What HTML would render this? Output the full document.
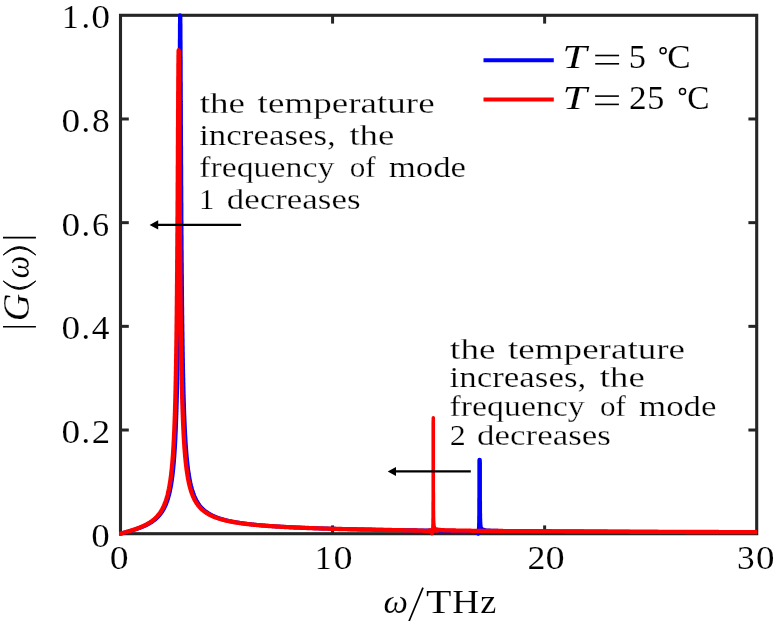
<!DOCTYPE html>
<html>
<head>
<meta charset="utf-8">
<title>|G(ω)| versus ω/THz</title>
<style>
html, body { margin: 0; padding: 0; background: #ffffff; }
body { width: 775px; height: 621px; overflow: hidden; }
svg { display: block; }
text { font-family: "Liberation Serif", serif; fill: #000000; }
.tick line { stroke: #262626; stroke-width: 3; }
</style>
</head>
<body>
<svg width="775" height="621" viewBox="0 0 775 621">
<rect x="0" y="0" width="775" height="621" fill="#ffffff"/>

<!-- axes frame -->
<rect x="120.5" y="15.3" width="636.20" height="518.40" fill="none" stroke="#262626" stroke-width="3.1"/>
<g class="tick">
<line x1="332.57" y1="533.70" x2="332.57" y2="525.40"/>
<line x1="332.57" y1="15.30" x2="332.57" y2="23.60"/>
<line x1="544.63" y1="533.70" x2="544.63" y2="525.40"/>
<line x1="544.63" y1="15.30" x2="544.63" y2="23.60"/>
<line x1="120.50" y1="430.02" x2="128.80" y2="430.02"/>
<line x1="756.70" y1="430.02" x2="748.40" y2="430.02"/>
<line x1="120.50" y1="326.34" x2="128.80" y2="326.34"/>
<line x1="756.70" y1="326.34" x2="748.40" y2="326.34"/>
<line x1="120.50" y1="222.66" x2="128.80" y2="222.66"/>
<line x1="756.70" y1="222.66" x2="748.40" y2="222.66"/>
<line x1="120.50" y1="118.98" x2="128.80" y2="118.98"/>
<line x1="756.70" y1="118.98" x2="748.40" y2="118.98"/>
</g>

<!-- curves -->
<clipPath id="cl"><rect x="119.1" y="0" width="637.90" height="621"/></clipPath>
<g clip-path="url(#cl)">
<path d="M120.5 533.7 L120.9 533.6 L121.3 533.5 L121.8 533.4 L122.2 533.2 L122.6 533.1 L123.0 533.0 L123.5 532.9 L123.9 532.8 L124.3 532.7 L124.7 532.5 L125.2 532.4 L125.6 532.3 L126.0 532.2 L126.4 532.1 L126.9 532.0 L127.3 531.8 L127.7 531.7 L128.1 531.6 L128.6 531.5 L129.0 531.3 L129.4 531.2 L129.8 531.1 L130.3 531.0 L130.7 530.9 L131.1 530.7 L131.5 530.6 L132.0 530.5 L132.4 530.3 L132.8 530.2 L133.2 530.1 L133.6 529.9 L134.1 529.8 L134.5 529.7 L134.9 529.5 L135.3 529.4 L135.8 529.3 L136.2 529.1 L136.6 529.0 L137.0 528.8 L137.5 528.7 L137.9 528.5 L138.3 528.4 L138.7 528.2 L139.2 528.1 L139.6 527.9 L140.0 527.8 L140.4 527.6 L140.9 527.4 L141.3 527.3 L141.7 527.1 L142.1 526.9 L142.6 526.8 L143.0 526.6 L143.4 526.4 L143.8 526.2 L144.3 526.0 L144.7 525.8 L145.1 525.7 L145.5 525.5 L145.9 525.3 L146.4 525.1 L146.8 524.8 L147.2 524.6 L147.6 524.4 L148.1 524.2 L148.5 524.0 L148.9 523.7 L149.3 523.5 L149.8 523.2 L150.2 523.0 L150.6 522.7 L151.0 522.5 L151.5 522.2 L151.9 521.9 L152.3 521.6 L152.7 521.3 L153.2 521.0 L153.6 520.7 L154.0 520.4 L154.4 520.1 L154.9 519.8 L155.3 519.4 L155.7 519.1 L156.1 518.7 L156.3 518.5 L156.6 518.3 L156.8 518.1 L157.0 517.9 L157.2 517.7 L157.4 517.5 L157.6 517.3 L157.8 517.1 L158.0 516.9 L158.2 516.6 L158.5 516.4 L158.7 516.2 L158.9 515.9 L159.1 515.7 L159.3 515.5 L159.5 515.2 L159.7 515.0 L159.9 514.7 L160.2 514.4 L160.4 514.2 L160.6 513.9 L160.8 513.6 L161.0 513.3 L161.2 513.0 L161.4 512.7 L161.6 512.4 L161.9 512.1 L162.1 511.8 L162.3 511.5 L162.5 511.2 L162.7 510.8 L162.9 510.5 L163.1 510.1 L163.3 509.7 L163.5 509.4 L163.8 509.0 L164.0 508.6 L164.2 508.2 L164.4 507.8 L164.6 507.4 L164.8 506.9 L165.0 506.5 L165.2 506.0 L165.5 505.5 L165.7 505.1 L165.9 504.6 L166.1 504.0 L166.3 503.5 L166.5 503.0 L166.7 502.4 L166.9 501.8 L167.2 501.2 L167.4 500.6 L167.6 500.0 L167.8 499.3 L168.0 498.6 L168.2 497.9 L168.4 497.2 L168.6 496.4 L168.9 495.6 L169.1 494.8 L169.3 494.0 L169.5 493.1 L169.6 492.6 L169.7 492.3 L169.8 492.0 L169.8 491.6 L169.9 491.3 L170.0 490.9 L170.0 490.6 L170.1 490.2 L170.2 489.9 L170.3 489.5 L170.3 489.2 L170.4 488.8 L170.5 488.4 L170.6 488.0 L170.6 487.6 L170.7 487.3 L170.8 487.0 L170.8 486.6 L170.9 486.3 L171.0 485.9 L171.0 485.5 L171.1 485.2 L171.2 484.8 L171.2 484.4 L171.3 484.1 L171.3 483.7 L171.4 483.3 L171.5 482.9 L171.5 482.5 L171.6 482.1 L171.7 481.6 L171.7 481.3 L171.8 480.9 L171.8 480.6 L171.9 480.2 L171.9 479.8 L172.0 479.5 L172.0 479.1 L172.1 478.7 L172.1 478.3 L172.2 477.9 L172.2 477.5 L172.3 477.1 L172.4 476.7 L172.4 476.3 L172.5 475.9 L172.5 475.5 L172.6 475.0 L172.6 474.6 L172.7 474.1 L172.7 473.8 L172.8 473.4 L172.8 473.1 L172.8 472.7 L172.9 472.3 L172.9 471.9 L173.0 471.6 L173.0 471.2 L173.1 470.8 L173.1 470.4 L173.1 470.0 L173.2 469.6 L173.2 469.2 L173.3 468.7 L173.3 468.3 L173.3 467.9 L173.4 467.5 L173.4 467.0 L173.5 466.6 L173.5 466.1 L173.6 465.7 L173.6 465.2 L173.6 464.8 L173.7 464.3 L173.7 463.8 L173.8 463.3 L173.8 462.8 L173.8 462.5 L173.9 462.1 L173.9 461.7 L173.9 461.3 L174.0 461.0 L174.0 460.6 L174.0 460.2 L174.1 459.8 L174.1 459.4 L174.1 459.0 L174.2 458.6 L174.2 458.1 L174.2 457.7 L174.3 457.3 L174.3 456.9 L174.3 456.5 L174.4 456.0 L174.4 455.6 L174.4 455.1 L174.4 454.7 L174.5 454.2 L174.5 453.8 L174.5 453.3 L174.6 452.8 L174.6 452.4 L174.6 451.9 L174.7 451.4 L174.7 450.9 L174.7 450.4 L174.8 449.9 L174.8 449.4 L174.8 448.9 L174.9 448.4 L174.9 447.9 L174.9 447.3 L175.0 446.8 L175.0 446.2 L175.0 445.7 L175.1 445.1 L175.1 444.6 L175.1 444.0 L175.1 443.6 L175.2 443.2 L175.2 442.9 L175.2 442.5 L175.2 442.1 L175.2 441.7 L175.3 441.3 L175.3 440.9 L175.3 440.4 L175.3 440.0 L175.4 439.6 L175.4 439.2 L175.4 438.8 L175.4 438.4 L175.4 437.9 L175.5 437.5 L175.5 437.1 L175.5 436.6 L175.5 436.2 L175.5 435.7 L175.6 435.3 L175.6 434.8 L175.6 434.4 L175.6 433.9 L175.6 433.4 L175.7 433.0 L175.7 432.5 L175.7 432.0 L175.7 431.5 L175.8 431.0 L175.8 430.5 L175.8 430.0 L175.8 429.5 L175.8 429.0 L175.9 428.5 L175.9 428.0 L175.9 427.5 L175.9 426.9 L175.9 426.4 L176.0 425.9 L176.0 425.3 L176.0 424.8 L176.0 424.2 L176.1 423.7 L176.1 423.1 L176.1 422.6 L176.1 422.0 L176.1 421.4 L176.2 420.8 L176.2 420.2 L176.2 419.6 L176.2 419.0 L176.2 418.4 L176.3 417.8 L176.3 417.2 L176.3 416.6 L176.3 415.9 L176.3 415.3 L176.4 414.7 L176.4 414.0 L176.4 413.3 L176.4 412.7 L176.5 412.0 L176.5 411.3 L176.5 410.6 L176.5 409.9 L176.5 409.2 L176.6 408.5 L176.6 407.8 L176.6 407.1 L176.6 406.4 L176.6 405.6 L176.7 404.9 L176.7 404.1 L176.7 403.4 L176.7 402.6 L176.8 401.8 L176.8 401.4 L176.8 401.0 L176.8 400.6 L176.8 400.2 L176.8 399.8 L176.8 399.4 L176.8 399.0 L176.8 398.6 L176.8 398.2 L176.9 397.8 L176.9 397.4 L176.9 396.9 L176.9 396.5 L176.9 396.1 L176.9 395.7 L176.9 395.2 L176.9 394.8 L176.9 394.4 L177.0 393.9 L177.0 393.5 L177.0 393.1 L177.0 392.6 L177.0 392.2 L177.0 391.7 L177.0 391.3 L177.0 390.8 L177.0 390.4 L177.0 389.9 L177.1 389.4 L177.1 389.0 L177.1 388.5 L177.1 388.0 L177.1 387.5 L177.1 387.1 L177.1 386.6 L177.1 386.1 L177.1 385.6 L177.2 385.1 L177.2 384.6 L177.2 384.2 L177.2 383.7 L177.2 383.2 L177.2 382.6 L177.2 382.1 L177.2 381.6 L177.2 381.1 L177.2 380.6 L177.3 380.1 L177.3 379.6 L177.3 379.0 L177.3 378.5 L177.3 378.0 L177.3 377.4 L177.3 376.9 L177.3 376.4 L177.3 375.8 L177.4 375.3 L177.4 374.7 L177.4 374.1 L177.4 373.6 L177.4 373.0 L177.4 372.5 L177.4 371.9 L177.4 371.3 L177.4 370.7 L177.5 370.1 L177.5 369.6 L177.5 369.0 L177.5 368.4 L177.5 367.8 L177.5 367.2 L177.5 366.6 L177.5 365.9 L177.5 365.3 L177.5 364.7 L177.6 364.1 L177.6 363.5 L177.6 362.8 L177.6 362.2 L177.6 361.6 L177.6 360.9 L177.6 360.3 L177.6 359.6 L177.6 358.9 L177.7 358.3 L177.7 357.6 L177.7 356.9 L177.7 356.3 L177.7 355.6 L177.7 354.9 L177.7 354.2 L177.7 353.5 L177.7 352.8 L177.7 352.1 L177.8 351.4 L177.8 350.7 L177.8 350.0 L177.8 349.2 L177.8 348.5 L177.8 347.8 L177.8 347.0 L177.8 346.3 L177.8 345.5 L177.9 344.8 L177.9 344.0 L177.9 343.2 L177.9 342.5 L177.9 341.7 L177.9 340.9 L177.9 340.1 L177.9 339.3 L177.9 338.5 L177.9 337.7 L178.0 336.9 L178.0 336.0 L178.0 335.2 L178.0 334.4 L178.0 333.5 L178.0 332.7 L178.0 331.8 L178.0 331.0 L178.0 330.1 L178.1 329.2 L178.1 328.4 L178.1 327.5 L178.1 326.6 L178.1 325.7 L178.1 324.8 L178.1 323.8 L178.1 322.9 L178.1 322.0 L178.2 321.1 L178.2 320.1 L178.2 319.2 L178.2 318.2 L178.2 317.2 L178.2 316.3 L178.2 315.3 L178.2 314.3 L178.2 313.3 L178.2 312.3 L178.3 311.3 L178.3 310.3 L178.3 309.2 L178.3 308.2 L178.3 307.1 L178.3 306.1 L178.3 305.0 L178.3 303.9 L178.3 302.9 L178.4 301.8 L178.4 300.7 L178.4 299.6 L178.4 298.5 L178.4 297.3 L178.4 296.2 L178.4 295.1 L178.4 293.9 L178.4 292.7 L178.4 291.6 L178.5 290.4 L178.5 289.2 L178.5 288.0 L178.5 286.8 L178.5 285.6 L178.5 284.3 L178.5 283.1 L178.5 281.8 L178.5 280.6 L178.6 279.3 L178.6 278.0 L178.6 276.7 L178.6 275.4 L178.6 274.1 L178.6 272.8 L178.6 271.4 L178.6 270.1 L178.6 268.7 L178.6 267.3 L178.7 265.9 L178.7 264.5 L178.7 263.1 L178.7 261.7 L178.7 260.3 L178.7 258.8 L178.7 257.4 L178.7 255.9 L178.7 254.4 L178.8 252.9 L178.8 251.4 L178.8 249.9 L178.8 248.4 L178.8 246.8 L178.8 245.3 L178.8 243.7 L178.8 242.1 L178.8 240.5 L178.9 238.9 L178.9 237.3 L178.9 235.6 L178.9 234.0 L178.9 232.3 L178.9 230.6 L178.9 228.9 L178.9 227.2 L178.9 225.5 L178.9 223.8 L179.0 222.0 L179.0 220.3 L179.0 218.5 L179.0 216.7 L179.0 214.9 L179.0 213.1 L179.0 211.2 L179.0 209.4 L179.0 207.5 L179.1 205.6 L179.1 203.7 L179.1 201.8 L179.1 199.9 L179.1 198.0 L179.1 196.0 L179.1 194.1 L179.1 192.1 L179.1 190.1 L179.1 188.1 L179.2 186.0 L179.2 184.0 L179.2 181.9 L179.2 179.9 L179.2 177.8 L179.2 175.7 L179.2 173.6 L179.2 171.5 L179.2 169.3 L179.3 167.2 L179.3 165.0 L179.3 162.8 L179.3 160.7 L179.3 158.4 L179.3 156.2 L179.3 154.0 L179.3 151.8 L179.3 149.5 L179.3 147.3 L179.4 145.0 L179.4 142.7 L179.4 140.4 L179.4 138.1 L179.4 135.8 L179.4 133.5 L179.4 131.1 L179.4 128.8 L179.4 126.5 L179.5 124.1 L179.5 121.8 L179.5 119.4 L179.5 117.0 L179.5 114.6 L179.5 112.3 L179.5 109.9 L179.5 107.5 L179.5 105.1 L179.5 102.7 L179.6 100.4 L179.6 98.0 L179.6 95.6 L179.6 93.2 L179.6 90.8 L179.6 88.5 L179.6 86.1 L179.6 83.7 L179.6 81.4 L179.7 79.1 L179.7 76.7 L179.7 74.4 L179.7 72.1 L179.7 69.8 L179.7 67.5 L179.7 65.3 L179.7 63.0 L179.7 60.8 L179.8 58.6 L179.8 56.4 L179.8 54.3 L179.8 52.2 L179.8 50.1 L179.8 48.0 L179.8 45.9 L179.8 43.9 L179.8 42.0 L179.8 40.0 L179.9 38.1 L179.9 36.2 L179.9 34.4 L179.9 32.6 L179.9 30.9 L179.9 29.2 L179.9 27.5 L179.9 25.9 L179.9 24.4 L180.0 22.8 L180.0 21.4 L180.0 20.0 L180.0 18.6 L180.0 17.3 L180.0 16.1 L180.0 15.3 L180.4 16.0 L180.4 17.3 L180.4 18.5 L180.4 19.9 L180.4 21.3 L180.4 22.7 L180.5 24.2 L180.5 25.7 L180.5 27.3 L180.5 29.0 L180.5 30.6 L180.5 32.4 L180.5 34.1 L180.5 35.9 L180.5 37.8 L180.5 39.6 L180.6 41.6 L180.6 43.5 L180.6 45.5 L180.6 47.5 L180.6 49.5 L180.6 51.6 L180.6 53.7 L180.6 55.8 L180.6 57.9 L180.7 60.1 L180.7 62.3 L180.7 64.5 L180.7 66.7 L180.7 68.9 L180.7 71.2 L180.7 73.4 L180.7 75.7 L180.7 78.0 L180.7 80.3 L180.8 82.6 L180.8 84.9 L180.8 87.2 L180.8 89.5 L180.8 91.9 L180.8 94.2 L180.8 96.5 L180.8 98.8 L180.8 101.2 L180.9 103.5 L180.9 105.8 L180.9 108.2 L180.9 110.5 L180.9 112.8 L180.9 115.2 L180.9 117.5 L180.9 119.8 L180.9 122.1 L180.9 124.4 L181.0 126.7 L181.0 129.0 L181.0 131.2 L181.0 133.5 L181.0 135.8 L181.0 138.0 L181.0 140.3 L181.0 142.5 L181.0 144.7 L181.1 146.9 L181.1 149.1 L181.1 151.3 L181.1 153.5 L181.1 155.7 L181.1 157.8 L181.1 159.9 L181.1 162.1 L181.1 164.2 L181.2 166.3 L181.2 168.4 L181.2 170.5 L181.2 172.5 L181.2 174.6 L181.2 176.6 L181.2 178.6 L181.2 180.6 L181.2 182.6 L181.2 184.6 L181.3 186.6 L181.3 188.5 L181.3 190.4 L181.3 192.4 L181.3 194.3 L181.3 196.2 L181.3 198.1 L181.3 199.9 L181.3 201.8 L181.4 203.6 L181.4 205.4 L181.4 207.2 L181.4 209.0 L181.4 210.8 L181.4 212.6 L181.4 214.3 L181.4 216.1 L181.4 217.8 L181.4 219.5 L181.5 221.2 L181.5 222.9 L181.5 224.6 L181.5 226.2 L181.5 227.9 L181.5 229.5 L181.5 231.1 L181.5 232.7 L181.5 234.3 L181.6 235.9 L181.6 237.5 L181.6 239.0 L181.6 240.6 L181.6 242.1 L181.6 243.6 L181.6 245.1 L181.6 246.6 L181.6 248.1 L181.6 249.5 L181.7 251.0 L181.7 252.4 L181.7 253.8 L181.7 255.3 L181.7 256.7 L181.7 258.1 L181.7 259.4 L181.7 260.8 L181.7 262.2 L181.8 263.5 L181.8 264.8 L181.8 266.2 L181.8 267.5 L181.8 268.8 L181.8 270.1 L181.8 271.4 L181.8 272.6 L181.8 273.9 L181.9 275.1 L181.9 276.4 L181.9 277.6 L181.9 278.8 L181.9 280.0 L181.9 281.2 L181.9 282.4 L181.9 283.6 L181.9 284.8 L181.9 285.9 L182.0 287.1 L182.0 288.2 L182.0 289.4 L182.0 290.5 L182.0 291.6 L182.0 292.7 L182.0 293.8 L182.0 294.9 L182.0 296.0 L182.1 297.0 L182.1 298.1 L182.1 299.1 L182.1 300.2 L182.1 301.2 L182.1 302.2 L182.1 303.3 L182.1 304.3 L182.1 305.3 L182.1 306.3 L182.2 307.3 L182.2 308.2 L182.2 309.2 L182.2 310.2 L182.2 311.1 L182.2 312.1 L182.2 313.0 L182.2 314.0 L182.2 314.9 L182.3 315.8 L182.3 316.7 L182.3 317.6 L182.3 318.5 L182.3 319.4 L182.3 320.3 L182.3 321.2 L182.3 322.1 L182.3 322.9 L182.3 323.8 L182.4 324.6 L182.4 325.5 L182.4 326.3 L182.4 327.2 L182.4 328.0 L182.4 328.8 L182.4 329.6 L182.4 330.4 L182.4 331.2 L182.5 332.0 L182.5 332.8 L182.5 333.6 L182.5 334.4 L182.5 335.2 L182.5 335.9 L182.5 336.7 L182.5 337.5 L182.5 338.2 L182.6 339.0 L182.6 339.7 L182.6 340.4 L182.6 341.2 L182.6 341.9 L182.6 342.6 L182.6 343.3 L182.6 344.0 L182.6 344.7 L182.6 345.4 L182.7 346.1 L182.7 346.8 L182.7 347.5 L182.7 348.2 L182.7 348.9 L182.7 349.5 L182.7 350.2 L182.7 350.9 L182.7 351.5 L182.8 352.2 L182.8 352.8 L182.8 353.5 L182.8 354.1 L182.8 354.8 L182.8 355.4 L182.8 356.0 L182.8 356.6 L182.8 357.3 L182.8 357.9 L182.9 358.5 L182.9 359.1 L182.9 359.7 L182.9 360.3 L182.9 360.9 L182.9 361.5 L182.9 362.1 L182.9 362.6 L182.9 363.2 L183.0 363.8 L183.0 364.4 L183.0 364.9 L183.0 365.5 L183.0 366.1 L183.0 366.6 L183.0 367.2 L183.0 367.7 L183.0 368.3 L183.0 368.8 L183.1 369.4 L183.1 369.9 L183.1 370.4 L183.1 370.9 L183.1 371.5 L183.1 372.0 L183.1 372.5 L183.1 373.0 L183.1 373.5 L183.2 374.1 L183.2 374.6 L183.2 375.1 L183.2 375.6 L183.2 376.1 L183.2 376.6 L183.2 377.0 L183.2 377.5 L183.2 378.0 L183.3 378.5 L183.3 379.0 L183.3 379.5 L183.3 379.9 L183.3 380.4 L183.3 380.9 L183.3 381.3 L183.3 381.8 L183.3 382.3 L183.3 382.7 L183.4 383.2 L183.4 383.6 L183.4 384.1 L183.4 384.5 L183.4 385.0 L183.4 385.4 L183.4 385.8 L183.4 386.3 L183.4 386.7 L183.5 387.1 L183.5 387.6 L183.5 388.0 L183.5 388.4 L183.5 388.8 L183.5 389.3 L183.5 389.7 L183.5 390.1 L183.5 390.5 L183.5 390.9 L183.6 391.3 L183.6 391.7 L183.6 392.1 L183.6 392.5 L183.6 392.9 L183.6 393.3 L183.6 393.7 L183.6 394.1 L183.7 394.9 L183.7 395.6 L183.7 396.4 L183.7 397.2 L183.7 397.9 L183.8 398.6 L183.8 399.4 L183.8 400.1 L183.8 400.8 L183.8 401.5 L183.9 402.2 L183.9 402.9 L183.9 403.6 L183.9 404.2 L184.0 404.9 L184.0 405.6 L184.0 406.2 L184.0 406.9 L184.0 407.5 L184.1 408.1 L184.1 408.8 L184.1 409.4 L184.1 410.0 L184.1 410.6 L184.2 411.2 L184.2 411.8 L184.2 412.4 L184.2 413.0 L184.2 413.6 L184.3 414.2 L184.3 414.7 L184.3 415.3 L184.3 415.9 L184.4 416.4 L184.4 417.0 L184.4 417.5 L184.4 418.0 L184.4 418.6 L184.5 419.1 L184.5 419.6 L184.5 420.1 L184.5 420.7 L184.5 421.2 L184.6 421.7 L184.6 422.2 L184.6 422.7 L184.6 423.2 L184.7 423.6 L184.7 424.1 L184.7 424.6 L184.7 425.1 L184.7 425.5 L184.8 426.0 L184.8 426.5 L184.8 426.9 L184.8 427.4 L184.8 427.8 L184.9 428.3 L184.9 428.7 L184.9 429.2 L184.9 429.6 L184.9 430.0 L185.0 430.5 L185.0 430.9 L185.0 431.3 L185.0 431.7 L185.1 432.1 L185.1 432.5 L185.1 432.9 L185.1 433.4 L185.1 433.8 L185.2 434.2 L185.2 434.5 L185.2 434.9 L185.2 435.3 L185.2 435.7 L185.3 436.1 L185.3 436.7 L185.3 437.2 L185.4 437.8 L185.4 438.3 L185.4 438.9 L185.5 439.4 L185.5 439.9 L185.5 440.4 L185.6 441.0 L185.6 441.5 L185.6 442.0 L185.6 442.5 L185.7 443.0 L185.7 443.4 L185.7 443.9 L185.8 444.4 L185.8 444.9 L185.8 445.3 L185.9 445.8 L185.9 446.3 L185.9 446.7 L186.0 447.2 L186.0 447.6 L186.0 448.0 L186.1 448.5 L186.1 448.9 L186.1 449.3 L186.2 449.8 L186.2 450.2 L186.2 450.6 L186.3 451.0 L186.3 451.4 L186.3 451.8 L186.3 452.2 L186.4 452.6 L186.4 453.0 L186.4 453.3 L186.5 453.7 L186.5 454.1 L186.5 454.5 L186.6 454.8 L186.6 455.3 L186.7 455.8 L186.7 456.3 L186.7 456.8 L186.8 457.2 L186.8 457.7 L186.9 458.1 L186.9 458.6 L187.0 459.0 L187.0 459.4 L187.0 459.9 L187.1 460.3 L187.1 460.7 L187.2 461.1 L187.2 461.5 L187.2 461.9 L187.3 462.3 L187.3 462.7 L187.4 463.1 L187.4 463.5 L187.5 463.9 L187.5 464.3 L187.5 464.7 L187.6 465.0 L187.6 465.4 L187.7 465.8 L187.7 466.2 L187.8 466.6 L187.8 467.1 L187.9 467.5 L187.9 467.9 L188.0 468.3 L188.0 468.8 L188.1 469.2 L188.1 469.6 L188.2 470.0 L188.3 470.3 L188.3 470.7 L188.4 471.1 L188.4 471.5 L188.5 471.9 L188.5 472.2 L188.6 472.6 L188.6 472.9 L188.7 473.3 L188.7 473.6 L188.8 474.1 L188.9 474.5 L188.9 474.9 L189.0 475.3 L189.1 475.7 L189.1 476.0 L189.2 476.4 L189.2 476.8 L189.3 477.2 L189.4 477.5 L189.4 477.9 L189.5 478.2 L189.6 478.6 L189.6 478.9 L189.7 479.3 L189.8 479.7 L189.8 480.0 L189.9 480.4 L190.0 480.8 L190.1 481.2 L190.1 481.5 L190.2 481.9 L190.3 482.2 L190.4 482.6 L190.4 482.9 L190.5 483.3 L190.6 483.6 L190.7 483.9 L190.7 484.3 L190.9 485.0 L191.1 485.9 L191.3 486.7 L191.5 487.5 L191.8 488.3 L192.0 489.1 L192.2 489.8 L192.4 490.5 L192.6 491.2 L192.8 491.8 L193.0 492.5 L193.2 493.1 L193.5 493.7 L193.7 494.3 L193.9 494.8 L194.1 495.4 L194.3 495.9 L194.5 496.4 L194.7 496.9 L194.9 497.4 L195.1 497.8 L195.4 498.3 L195.6 498.7 L195.8 499.2 L196.0 499.6 L196.2 500.0 L196.4 500.4 L196.6 500.8 L196.8 501.2 L197.1 501.5 L197.3 501.9 L197.5 502.2 L197.7 502.6 L197.9 502.9 L198.1 503.2 L198.3 503.6 L198.5 503.9 L198.8 504.2 L199.0 504.5 L199.2 504.8 L199.4 505.1 L199.6 505.3 L199.8 505.6 L200.0 505.9 L200.2 506.1 L200.4 506.4 L200.7 506.6 L200.9 506.9 L201.1 507.1 L201.3 507.4 L201.5 507.6 L201.7 507.8 L201.9 508.1 L202.1 508.3 L202.4 508.5 L202.6 508.7 L202.8 508.9 L203.0 509.1 L203.2 509.3 L203.4 509.5 L203.6 509.7 L203.8 509.9 L204.3 510.3 L204.7 510.6 L205.1 511.0 L205.5 511.3 L206.0 511.6 L206.4 511.9 L206.8 512.2 L207.2 512.5 L207.7 512.8 L208.1 513.1 L208.5 513.4 L208.9 513.6 L209.4 513.9 L209.8 514.1 L210.2 514.4 L210.6 514.6 L211.1 514.8 L211.5 515.0 L211.9 515.3 L212.3 515.5 L212.7 515.7 L213.2 515.9 L213.6 516.1 L214.0 516.3 L214.4 516.4 L214.9 516.6 L215.3 516.8 L215.7 517.0 L216.1 517.1 L216.6 517.3 L217.0 517.5 L217.4 517.6 L217.8 517.8 L218.3 517.9 L218.7 518.1 L219.1 518.2 L219.5 518.4 L220.0 518.5 L220.4 518.6 L220.8 518.8 L221.2 518.9 L221.7 519.0 L222.1 519.2 L222.5 519.3 L222.9 519.4 L223.4 519.5 L223.8 519.6 L224.2 519.8 L224.6 519.9 L225.0 520.0 L225.5 520.1 L225.9 520.2 L226.3 520.3 L226.7 520.4 L227.2 520.5 L227.6 520.6 L228.0 520.7 L228.4 520.8 L228.9 520.9 L229.3 521.0 L229.7 521.1 L230.1 521.2 L230.6 521.3 L231.0 521.3 L231.4 521.4 L231.8 521.5 L232.3 521.6 L232.7 521.7 L233.1 521.8 L233.5 521.8 L234.0 521.9 L234.4 522.0 L234.8 522.1 L235.2 522.1 L235.7 522.2 L236.1 522.3 L236.5 522.4 L236.9 522.4 L237.3 522.5 L237.8 522.6 L238.2 522.6 L238.6 522.7 L239.0 522.8 L239.5 522.8 L239.9 522.9 L240.3 523.0 L240.7 523.0 L241.2 523.1 L241.6 523.2 L242.0 523.2 L242.4 523.3 L242.9 523.3 L243.3 523.4 L243.7 523.4 L244.1 523.5 L244.6 523.6 L245.0 523.6 L245.4 523.7 L245.8 523.7 L246.3 523.8 L246.7 523.8 L247.1 523.9 L247.5 523.9 L248.0 524.0 L248.4 524.0 L248.8 524.1 L249.2 524.1 L249.6 524.2 L250.1 524.2 L250.5 524.3 L250.9 524.3 L251.3 524.4 L251.8 524.4 L252.2 524.5 L252.6 524.5 L253.0 524.6 L253.5 524.6 L253.9 524.6 L254.3 524.7 L254.7 524.7 L255.2 524.8 L255.6 524.8 L256.0 524.9 L256.4 524.9 L256.9 524.9 L257.3 525.0 L257.7 525.0 L258.1 525.1 L258.6 525.1 L259.0 525.1 L259.4 525.2 L259.8 525.2 L260.3 525.2 L260.7 525.3 L261.1 525.3 L261.5 525.4 L261.9 525.4 L262.4 525.4 L262.8 525.5 L263.2 525.5 L263.6 525.5 L264.1 525.6 L264.5 525.6 L264.9 525.6 L265.3 525.7 L265.8 525.7 L266.2 525.7 L266.6 525.8 L267.0 525.8 L267.5 525.8 L267.9 525.9 L268.3 525.9 L268.7 525.9 L269.2 526.0 L269.6 526.0 L270.0 526.0 L270.4 526.0 L270.9 526.1 L271.3 526.1 L271.7 526.1 L272.1 526.2 L272.6 526.2 L273.0 526.2 L273.4 526.2 L273.8 526.3 L274.2 526.3 L274.7 526.3 L275.1 526.4 L275.5 526.4 L275.9 526.4 L276.4 526.4 L276.8 526.5 L277.2 526.5 L277.6 526.5 L278.1 526.5 L278.5 526.6 L278.9 526.6 L279.3 526.6 L279.8 526.6 L280.2 526.7 L280.6 526.7 L281.0 526.7 L281.5 526.7 L281.9 526.8 L282.3 526.8 L282.7 526.8 L283.2 526.8 L283.6 526.9 L284.0 526.9 L284.4 526.9 L284.9 526.9 L285.3 527.0 L285.7 527.0 L286.1 527.0 L286.5 527.0 L287.0 527.0 L287.4 527.1 L287.8 527.1 L288.2 527.1 L288.7 527.1 L289.1 527.2 L289.5 527.2 L289.9 527.2 L290.4 527.2 L290.8 527.2 L291.2 527.3 L291.6 527.3 L292.1 527.3 L292.5 527.3 L292.9 527.3 L293.3 527.4 L293.8 527.4 L294.2 527.4 L294.6 527.4 L295.0 527.4 L295.5 527.5 L295.9 527.5 L296.3 527.5 L296.7 527.5 L297.2 527.5 L297.6 527.6 L298.0 527.6 L298.4 527.6 L298.8 527.6 L299.3 527.6 L299.7 527.6 L300.1 527.7 L300.5 527.7 L301.0 527.7 L301.4 527.7 L301.8 527.7 L302.2 527.7 L302.7 527.8 L303.1 527.8 L303.5 527.8 L303.9 527.8 L304.4 527.8 L304.8 527.9 L305.2 527.9 L305.6 527.9 L306.1 527.9 L306.5 527.9 L306.9 527.9 L307.3 527.9 L307.8 528.0 L308.2 528.0 L308.6 528.0 L309.0 528.0 L309.5 528.0 L309.9 528.0 L310.3 528.1 L310.7 528.1 L311.1 528.1 L311.6 528.1 L312.0 528.1 L312.4 528.1 L312.8 528.2 L313.3 528.2 L313.7 528.2 L314.1 528.2 L314.5 528.2 L315.0 528.2 L315.4 528.2 L315.8 528.3 L316.2 528.3 L316.7 528.3 L317.1 528.3 L317.5 528.3 L317.9 528.3 L318.4 528.3 L318.8 528.4 L319.2 528.4 L319.6 528.4 L320.1 528.4 L320.5 528.4 L320.9 528.4 L321.3 528.4 L321.8 528.4 L322.2 528.5 L322.6 528.5 L323.0 528.5 L323.4 528.5 L323.9 528.5 L324.3 528.5 L324.7 528.5 L325.1 528.6 L325.6 528.6 L326.0 528.6 L326.4 528.6 L326.8 528.6 L327.3 528.6 L327.7 528.6 L328.1 528.6 L328.5 528.7 L329.0 528.7 L329.4 528.7 L329.8 528.7 L330.2 528.7 L330.7 528.7 L331.1 528.7 L331.5 528.7 L331.9 528.7 L332.4 528.8 L332.8 528.8 L333.2 528.8 L333.6 528.8 L334.1 528.8 L334.5 528.8 L334.9 528.8 L335.3 528.8 L335.7 528.9 L336.2 528.9 L336.6 528.9 L337.0 528.9 L337.4 528.9 L337.9 528.9 L338.3 528.9 L338.7 528.9 L339.1 528.9 L339.6 529.0 L340.0 529.0 L340.4 529.0 L340.8 529.0 L341.3 529.0 L341.7 529.0 L342.1 529.0 L342.5 529.0 L343.0 529.0 L343.4 529.0 L343.8 529.1 L344.2 529.1 L344.7 529.1 L345.1 529.1 L345.5 529.1 L345.9 529.1 L346.4 529.1 L346.8 529.1 L347.2 529.1 L347.6 529.1 L348.0 529.2 L348.5 529.2 L348.9 529.2 L349.3 529.2 L349.7 529.2 L350.2 529.2 L350.6 529.2 L351.0 529.2 L351.4 529.2 L351.9 529.2 L352.3 529.3 L352.7 529.3 L353.1 529.3 L353.6 529.3 L354.0 529.3 L354.4 529.3 L354.8 529.3 L355.3 529.3 L355.7 529.3 L356.1 529.3 L356.5 529.3 L357.0 529.4 L357.4 529.4 L357.8 529.4 L358.2 529.4 L358.7 529.4 L359.1 529.4 L359.5 529.4 L359.9 529.4 L360.3 529.4 L360.8 529.4 L361.2 529.4 L361.6 529.5 L362.0 529.5 L362.5 529.5 L362.9 529.5 L363.3 529.5 L363.7 529.5 L364.2 529.5 L364.6 529.5 L365.0 529.5 L365.4 529.5 L365.9 529.5 L366.3 529.5 L366.7 529.6 L367.1 529.6 L367.6 529.6 L368.0 529.6 L368.4 529.6 L368.8 529.6 L369.3 529.6 L369.7 529.6 L370.1 529.6 L370.5 529.6 L371.0 529.6 L371.4 529.6 L371.8 529.6 L372.2 529.7 L372.6 529.7 L373.1 529.7 L373.5 529.7 L373.9 529.7 L374.3 529.7 L374.8 529.7 L375.2 529.7 L375.6 529.7 L376.0 529.7 L376.5 529.7 L376.9 529.7 L377.3 529.7 L377.7 529.8 L378.2 529.8 L378.6 529.8 L379.0 529.8 L379.4 529.8 L379.9 529.8 L380.3 529.8 L380.7 529.8 L381.1 529.8 L381.6 529.8 L382.0 529.8 L382.4 529.8 L382.8 529.8 L383.3 529.9 L383.7 529.9 L384.1 529.9 L384.5 529.9 L384.9 529.9 L385.4 529.9 L385.8 529.9 L386.2 529.9 L386.6 529.9 L387.1 529.9 L387.5 529.9 L387.9 529.9 L388.3 529.9 L388.8 529.9 L389.2 529.9 L389.6 530.0 L390.0 530.0 L390.5 530.0 L390.9 530.0 L391.3 530.0 L391.7 530.0 L392.2 530.0 L392.6 530.0 L393.0 530.0 L393.4 530.0 L393.9 530.0 L394.3 530.0 L394.7 530.0 L395.1 530.0 L395.6 530.0 L396.0 530.1 L396.4 530.1 L396.8 530.1 L397.2 530.1 L397.7 530.1 L398.1 530.1 L398.5 530.1 L398.9 530.1 L399.4 530.1 L399.8 530.1 L400.2 530.1 L400.6 530.1 L401.1 530.1 L401.5 530.1 L401.9 530.1 L402.3 530.2 L402.8 530.2 L403.2 530.2 L403.6 530.2 L404.0 530.2 L404.5 530.2 L404.9 530.2 L405.3 530.2 L405.7 530.2 L406.2 530.2 L406.6 530.2 L407.0 530.2 L407.4 530.2 L407.9 530.2 L408.3 530.2 L408.7 530.2 L409.1 530.2 L409.5 530.3 L410.0 530.3 L410.4 530.3 L410.8 530.3 L411.2 530.3 L411.7 530.3 L412.1 530.3 L412.5 530.3 L412.9 530.3 L413.4 530.3 L413.8 530.3 L414.2 530.3 L414.6 530.3 L415.1 530.3 L415.5 530.3 L415.9 530.3 L416.3 530.3 L416.8 530.4 L417.2 530.4 L417.6 530.4 L418.0 530.4 L418.5 530.4 L418.9 530.4 L419.3 530.4 L419.7 530.4 L420.2 530.4 L420.6 530.4 L421.0 530.4 L421.4 530.4 L421.8 530.4 L422.3 530.4 L422.7 530.4 L423.1 530.4 L423.5 530.4 L424.0 530.4 L424.4 530.5 L424.8 530.5 L425.2 530.5 L425.7 530.5 L426.1 530.5 L426.5 530.5 L426.9 530.5 L427.4 530.5 L427.8 530.5 L428.2 530.5 L428.6 530.5 L429.1 530.5 L429.5 530.5 L429.9 530.5 L430.3 530.5 L430.8 530.5 L431.2 530.5 L431.6 530.5 L432.0 530.6 L432.5 530.6 L432.9 530.6 L433.3 530.6 L433.7 530.6 L434.1 530.6 L434.6 530.6 L435.0 530.6 L435.4 530.6 L435.8 530.6 L436.3 530.6 L436.7 530.6 L437.1 530.6 L437.5 530.6 L438.0 530.6 L438.4 530.6 L438.8 530.6 L439.2 530.6 L439.7 530.6 L440.1 530.7 L440.5 530.7 L440.9 530.7 L441.4 530.7 L441.8 530.7 L442.2 530.7 L442.6 530.7 L443.1 530.7 L443.5 530.7 L443.9 530.7 L444.3 530.7 L444.7 530.7 L445.2 530.7 L445.6 530.7 L446.0 530.7 L446.4 530.7 L446.9 530.7 L447.3 530.8 L447.7 530.8 L448.1 530.8 L448.6 530.8 L449.0 530.8 L449.4 530.8 L449.8 530.8 L450.3 530.8 L450.7 530.8 L451.1 530.8 L451.5 530.8 L452.0 530.8 L452.4 530.8 L452.8 530.8 L453.2 530.8 L453.7 530.8 L454.1 530.8 L454.5 530.9 L454.9 530.9 L455.4 530.9 L455.8 530.9 L456.2 530.9 L456.6 530.9 L457.0 530.9 L457.5 530.9 L457.9 530.9 L458.3 530.9 L458.7 530.9 L459.2 530.9 L459.6 530.9 L460.0 531.0 L460.4 531.0 L460.9 531.0 L461.3 531.0 L461.7 531.0 L462.1 531.0 L462.6 531.0 L463.0 531.0 L463.4 531.0 L463.8 531.0 L464.3 531.0 L464.7 531.1 L465.1 531.1 L465.5 531.1 L466.0 531.1 L466.4 531.1 L466.8 531.1 L467.2 531.1 L467.7 531.1 L468.1 531.2 L468.5 531.2 L468.9 531.2 L469.3 531.2 L469.8 531.2 L470.2 531.3 L470.6 531.3 L471.0 531.3 L471.5 531.3 L471.9 531.4 L472.3 531.4 L472.7 531.4 L473.2 531.5 L473.5 531.5 L473.9 531.5 L474.2 531.6 L474.6 531.6 L474.9 531.7 L475.3 531.8 L475.4 530.9 L475.8 530.9 L476.2 530.9 L476.6 530.9 L477.0 530.9 L477.4 530.9 L477.8 530.9 L478.2 530.9 L478.6 530.9 L479.0 530.9 L479.4 530.9 L479.8 530.9 L480.2 530.9 L480.6 530.9 L481.0 530.9 L481.4 530.9 L481.8 530.9 L482.2 531.0 L482.6 531.0 L483.0 531.0 L483.4 531.0 L483.8 531.0 L483.9 530.1 L484.2 530.1 L484.6 530.2 L484.9 530.2 L485.3 530.3 L485.6 530.3 L486.0 530.4 L486.5 530.4 L487.0 530.5 L487.4 530.5 L487.8 530.5 L488.2 530.5 L488.6 530.6 L489.1 530.6 L489.5 530.6 L489.9 530.6 L490.3 530.6 L490.8 530.7 L491.2 530.7 L491.6 530.7 L492.0 530.7 L492.5 530.7 L492.9 530.7 L493.3 530.8 L493.7 530.8 L494.2 530.8 L494.6 530.8 L495.0 530.8 L495.4 530.8 L495.9 530.8 L496.3 530.8 L496.7 530.8 L497.1 530.8 L497.6 530.8 L498.0 530.9 L498.4 530.9 L498.8 530.9 L499.3 530.9 L499.7 530.9 L500.1 530.9 L500.5 530.9 L500.9 530.9 L501.4 530.9 L501.8 530.9 L502.2 530.9 L502.6 530.9 L503.1 530.9 L503.5 530.9 L503.9 531.0 L504.3 531.0 L504.8 531.0 L505.2 531.0 L505.6 531.0 L506.0 531.0 L506.5 531.0 L506.9 531.0 L507.3 531.0 L507.7 531.0 L508.2 531.0 L508.6 531.0 L509.0 531.0 L509.4 531.0 L509.9 531.0 L510.3 531.0 L510.7 531.0 L511.1 531.0 L511.6 531.0 L512.0 531.0 L512.4 531.1 L512.8 531.1 L513.2 531.1 L513.7 531.1 L514.1 531.1 L514.5 531.1 L514.9 531.1 L515.4 531.1 L515.8 531.1 L516.2 531.1 L516.6 531.1 L517.1 531.1 L517.5 531.1 L517.9 531.1 L518.3 531.1 L518.8 531.1 L519.2 531.1 L519.6 531.1 L520.0 531.1 L520.5 531.1 L520.9 531.1 L521.3 531.1 L521.7 531.1 L522.2 531.1 L522.6 531.1 L523.0 531.1 L523.4 531.2 L523.9 531.2 L524.3 531.2 L524.7 531.2 L525.1 531.2 L525.5 531.2 L526.0 531.2 L526.4 531.2 L526.8 531.2 L527.2 531.2 L527.7 531.2 L528.1 531.2 L528.5 531.2 L528.9 531.2 L529.4 531.2 L529.8 531.2 L530.2 531.2 L530.6 531.2 L531.1 531.2 L531.5 531.2 L531.9 531.2 L532.3 531.2 L532.8 531.2 L533.2 531.2 L533.6 531.2 L534.0 531.2 L534.5 531.2 L534.9 531.2 L535.3 531.2 L535.7 531.2 L536.2 531.3 L536.6 531.3 L537.0 531.3 L537.4 531.3 L537.8 531.3 L538.3 531.3 L538.7 531.3 L539.1 531.3 L539.5 531.3 L540.0 531.3 L540.4 531.3 L540.8 531.3 L541.2 531.3 L541.7 531.3 L542.1 531.3 L542.5 531.3 L542.9 531.3 L543.4 531.3 L543.8 531.3 L544.2 531.3 L544.6 531.3 L545.1 531.3 L545.5 531.3 L545.9 531.3 L546.3 531.3 L546.8 531.3 L547.2 531.3 L547.6 531.3 L548.0 531.3 L548.5 531.3 L548.9 531.3 L549.3 531.3 L549.7 531.3 L550.1 531.3 L550.6 531.3 L551.0 531.3 L551.4 531.4 L551.8 531.4 L552.3 531.4 L552.7 531.4 L553.1 531.4 L553.5 531.4 L554.0 531.4 L554.4 531.4 L554.8 531.4 L555.2 531.4 L555.7 531.4 L556.1 531.4 L556.5 531.4 L556.9 531.4 L557.4 531.4 L557.8 531.4 L558.2 531.4 L558.6 531.4 L559.1 531.4 L559.5 531.4 L559.9 531.4 L560.3 531.4 L560.8 531.4 L561.2 531.4 L561.6 531.4 L562.0 531.4 L562.4 531.4 L562.9 531.4 L563.3 531.4 L563.7 531.4 L564.1 531.4 L564.6 531.4 L565.0 531.4 L565.4 531.4 L565.8 531.4 L566.3 531.4 L566.7 531.4 L567.1 531.4 L567.5 531.4 L568.0 531.5 L568.4 531.5 L568.8 531.5 L569.2 531.5 L569.7 531.5 L570.1 531.5 L570.5 531.5 L570.9 531.5 L571.4 531.5 L571.8 531.5 L572.2 531.5 L572.6 531.5 L573.1 531.5 L573.5 531.5 L573.9 531.5 L574.3 531.5 L574.7 531.5 L575.2 531.5 L575.6 531.5 L576.0 531.5 L576.4 531.5 L576.9 531.5 L577.3 531.5 L577.7 531.5 L578.1 531.5 L578.6 531.5 L579.0 531.5 L579.4 531.5 L579.8 531.5 L580.3 531.5 L580.7 531.5 L581.1 531.5 L581.5 531.5 L582.0 531.5 L582.4 531.5 L582.8 531.5 L583.2 531.5 L583.7 531.5 L584.1 531.5 L584.5 531.5 L584.9 531.5 L585.4 531.5 L585.8 531.5 L586.2 531.5 L586.6 531.5 L587.0 531.6 L587.5 531.6 L587.9 531.6 L588.3 531.6 L588.7 531.6 L589.2 531.6 L589.6 531.6 L590.0 531.6 L590.4 531.6 L590.9 531.6 L591.3 531.6 L591.7 531.6 L592.1 531.6 L592.6 531.6 L593.0 531.6 L593.4 531.6 L593.8 531.6 L594.3 531.6 L594.7 531.6 L595.1 531.6 L595.5 531.6 L596.0 531.6 L596.4 531.6 L596.8 531.6 L597.2 531.6 L597.7 531.6 L598.1 531.6 L598.5 531.6 L598.9 531.6 L599.3 531.6 L599.8 531.6 L600.2 531.6 L600.6 531.6 L601.0 531.6 L601.5 531.6 L601.9 531.6 L602.3 531.6 L602.7 531.6 L603.2 531.6 L603.6 531.6 L604.0 531.6 L604.4 531.6 L604.9 531.6 L605.3 531.6 L605.7 531.6 L606.1 531.6 L606.6 531.6 L607.0 531.6 L607.4 531.6 L607.8 531.7 L608.3 531.7 L608.7 531.7 L609.1 531.7 L609.5 531.7 L609.9 531.7 L610.4 531.7 L610.8 531.7 L611.2 531.7 L611.6 531.7 L612.1 531.7 L612.5 531.7 L612.9 531.7 L613.3 531.7 L613.8 531.7 L614.2 531.7 L614.6 531.7 L615.0 531.7 L615.5 531.7 L615.9 531.7 L616.3 531.7 L616.7 531.7 L617.2 531.7 L617.6 531.7 L618.0 531.7 L618.4 531.7 L618.9 531.7 L619.3 531.7 L619.7 531.7 L620.1 531.7 L620.6 531.7 L621.0 531.7 L621.4 531.7 L621.8 531.7 L622.2 531.7 L622.7 531.7 L623.1 531.7 L623.5 531.7 L623.9 531.7 L624.4 531.7 L624.8 531.7 L625.2 531.7 L625.6 531.7 L626.1 531.7 L626.5 531.7 L626.9 531.7 L627.3 531.7 L627.8 531.7 L628.2 531.7 L628.6 531.7 L629.0 531.7 L629.5 531.7 L629.9 531.7 L630.3 531.7 L630.7 531.7 L631.2 531.7 L631.6 531.8 L632.0 531.8 L632.4 531.8 L632.9 531.8 L633.3 531.8 L633.7 531.8 L634.1 531.8 L634.5 531.8 L635.0 531.8 L635.4 531.8 L635.8 531.8 L636.2 531.8 L636.7 531.8 L637.1 531.8 L637.5 531.8 L637.9 531.8 L638.4 531.8 L638.8 531.8 L639.2 531.8 L639.6 531.8 L640.1 531.8 L640.5 531.8 L640.9 531.8 L641.3 531.8 L641.8 531.8 L642.2 531.8 L642.6 531.8 L643.0 531.8 L643.5 531.8 L643.9 531.8 L644.3 531.8 L644.7 531.8 L645.2 531.8 L645.6 531.8 L646.0 531.8 L646.4 531.8 L646.8 531.8 L647.3 531.8 L647.7 531.8 L648.1 531.8 L648.5 531.8 L649.0 531.8 L649.4 531.8 L649.8 531.8 L650.2 531.8 L650.7 531.8 L651.1 531.8 L651.5 531.8 L651.9 531.8 L652.4 531.8 L652.8 531.8 L653.2 531.8 L653.6 531.8 L654.1 531.8 L654.5 531.8 L654.9 531.8 L655.3 531.8 L655.8 531.8 L656.2 531.8 L656.6 531.8 L657.0 531.8 L657.5 531.8 L657.9 531.9 L658.3 531.9 L658.7 531.9 L659.1 531.9 L659.6 531.9 L660.0 531.9 L660.4 531.9 L660.8 531.9 L661.3 531.9 L661.7 531.9 L662.1 531.9 L662.5 531.9 L663.0 531.9 L663.4 531.9 L663.8 531.9 L664.2 531.9 L664.7 531.9 L665.1 531.9 L665.5 531.9 L665.9 531.9 L666.4 531.9 L666.8 531.9 L667.2 531.9 L667.6 531.9 L668.1 531.9 L668.5 531.9 L668.9 531.9 L669.3 531.9 L669.8 531.9 L670.2 531.9 L670.6 531.9 L671.0 531.9 L671.4 531.9 L671.9 531.9 L672.3 531.9 L672.7 531.9 L673.1 531.9 L673.6 531.9 L674.0 531.9 L674.4 531.9 L674.8 531.9 L675.3 531.9 L675.7 531.9 L676.1 531.9 L676.5 531.9 L677.0 531.9 L677.4 531.9 L677.8 531.9 L678.2 531.9 L678.7 531.9 L679.1 531.9 L679.5 531.9 L679.9 531.9 L680.4 531.9 L680.8 531.9 L681.2 531.9 L681.6 531.9 L682.1 531.9 L682.5 531.9 L682.9 531.9 L683.3 531.9 L683.7 531.9 L684.2 531.9 L684.6 531.9 L685.0 531.9 L685.4 531.9 L685.9 531.9 L686.3 531.9 L686.7 531.9 L687.1 532.0 L687.6 532.0 L688.0 532.0 L688.4 532.0 L688.8 532.0 L689.3 532.0 L689.7 532.0 L690.1 532.0 L690.5 532.0 L691.0 532.0 L691.4 532.0 L691.8 532.0 L692.2 532.0 L692.7 532.0 L693.1 532.0 L693.5 532.0 L693.9 532.0 L694.4 532.0 L694.8 532.0 L695.2 532.0 L695.6 532.0 L696.0 532.0 L696.5 532.0 L696.9 532.0 L697.3 532.0 L697.7 532.0 L698.2 532.0 L698.6 532.0 L699.0 532.0 L699.4 532.0 L699.9 532.0 L700.3 532.0 L700.7 532.0 L701.1 532.0 L701.6 532.0 L702.0 532.0 L702.4 532.0 L702.8 532.0 L703.3 532.0 L703.7 532.0 L704.1 532.0 L704.5 532.0 L705.0 532.0 L705.4 532.0 L705.8 532.0 L706.2 532.0 L706.7 532.0 L707.1 532.0 L707.5 532.0 L707.9 532.0 L708.3 532.0 L708.8 532.0 L709.2 532.0 L709.6 532.0 L710.0 532.0 L710.5 532.0 L710.9 532.0 L711.3 532.0 L711.7 532.0 L712.2 532.0 L712.6 532.0 L713.0 532.0 L713.4 532.0 L713.9 532.0 L714.3 532.0 L714.7 532.0 L715.1 532.0 L715.6 532.0 L716.0 532.0 L716.4 532.0 L716.8 532.0 L717.3 532.0 L717.7 532.0 L718.1 532.0 L718.5 532.0 L719.0 532.0 L719.4 532.0 L719.8 532.0 L720.2 532.1 L720.6 532.1 L721.1 532.1 L721.5 532.1 L721.9 532.1 L722.3 532.1 L722.8 532.1 L723.2 532.1 L723.6 532.1 L724.0 532.1 L724.5 532.1 L724.9 532.1 L725.3 532.1 L725.7 532.1 L726.2 532.1 L726.6 532.1 L727.0 532.1 L727.4 532.1 L727.9 532.1 L728.3 532.1 L728.7 532.1 L729.1 532.1 L729.6 532.1 L730.0 532.1 L730.4 532.1 L730.8 532.1 L731.3 532.1 L731.7 532.1 L732.1 532.1 L732.5 532.1 L732.9 532.1 L733.4 532.1 L733.8 532.1 L734.2 532.1 L734.6 532.1 L735.1 532.1 L735.5 532.1 L735.9 532.1 L736.3 532.1 L736.8 532.1 L737.2 532.1 L737.6 532.1 L738.0 532.1 L738.5 532.1 L738.9 532.1 L739.3 532.1 L739.7 532.1 L740.2 532.1 L740.6 532.1 L741.0 532.1 L741.4 532.1 L741.9 532.1 L742.3 532.1 L742.7 532.1 L743.1 532.1 L743.6 532.1 L744.0 532.1 L744.4 532.1 L744.8 532.1 L745.2 532.1 L745.7 532.1 L746.1 532.1 L746.5 532.1 L746.9 532.1 L747.4 532.1 L747.8 532.1 L748.2 532.1 L748.6 532.1 L749.1 532.1 L749.5 532.1 L749.9 532.1 L750.3 532.1 L750.8 532.1 L751.2 532.1 L751.6 532.1 L752.0 532.1 L752.5 532.1 L752.9 532.1 L753.3 532.1 L753.7 532.1 L754.2 532.1 L754.6 532.1 L755.0 532.1 L755.4 532.1 L755.9 532.1 L756.3 532.1 L756.7 532.1 L756.7 532.1" fill="none" stroke="#0000ff" stroke-width="4.0" stroke-linejoin="round" stroke-linecap="round"/>
<path d="M475.4 531.8 L475.7 531.9 L476.0 532.0 L476.3 532.1 L476.6 532.2 L476.9 532.3 L477.2 532.5 L477.4 532.6 L477.6 532.8 L477.8 533.0 L478.0 533.2 L478.2 533.5 L478.4 533.3 L478.5 533.0 L478.6 532.7 L478.7 532.4 L478.8 532.0 L478.8 531.7 L478.9 531.4 L478.9 531.0 L479.0 530.6 L479.0 530.2 L479.1 529.8 L479.1 529.4 L479.1 529.0 L479.1 528.6 L479.2 528.2 L479.2 527.8 L479.2 527.4 L479.2 526.9 L479.3 526.5 L479.3 526.0 L479.3 525.5 L479.3 525.1 L479.3 524.6 L479.3 524.2 L479.3 523.7 L479.4 523.1 L479.4 522.7 L479.4 522.3 L479.4 521.8 L479.4 521.4 L479.4 520.8 L479.4 520.3 L479.4 519.7 L479.4 519.1 L479.4 518.4 L479.4 517.7 L479.4 516.9 L479.4 516.5 L479.5 516.1 L479.5 515.6 L479.5 515.1 L479.5 514.7 L479.5 514.1 L479.5 513.6 L479.5 513.0 L479.5 512.5 L479.5 511.8 L479.5 511.2 L479.5 510.5 L479.5 509.8 L479.5 509.1 L479.5 508.3 L479.5 507.4 L479.5 506.6 L479.5 505.6 L479.5 504.6 L479.5 503.6 L479.5 502.5 L479.5 501.3 L479.5 500.1 L479.5 498.8 L479.6 497.4 L479.6 495.9 L479.6 494.4 L479.6 492.7 L479.6 490.9 L479.6 489.1 L479.6 487.1 L479.6 485.0 L479.6 482.8 L479.6 480.6 L479.6 478.2 L479.6 475.8 L479.6 473.4 L479.6 471.0 L479.6 468.7 L479.6 466.5 L479.6 464.5 L479.6 462.8 L479.6 461.4 L479.6 460.5 L479.6 460.0 L479.6 460.5 L479.6 461.5 L479.7 462.8 L479.7 464.4 L479.7 466.2 L479.7 468.3 L479.7 470.4 L479.7 472.6 L479.7 474.7 L479.7 476.9 L479.7 479.0 L479.7 481.0 L479.7 482.9 L479.7 484.8 L479.7 486.5 L479.7 488.2 L479.7 489.8 L479.7 491.3 L479.7 492.7 L479.7 494.0 L479.7 495.3 L479.7 496.5 L479.7 497.6 L479.7 498.6 L479.7 499.6 L479.7 500.6 L479.8 501.5 L479.8 502.3 L479.8 503.1 L479.8 503.9 L479.8 504.6 L479.8 505.3 L479.8 506.0 L479.8 506.6 L479.8 507.2 L479.8 507.8 L479.8 508.3 L479.8 508.9 L479.8 509.4 L479.8 509.8 L479.8 510.3 L479.8 510.7 L479.8 511.2 L479.8 511.6 L479.8 512.3 L479.8 513.0 L479.9 513.7 L479.9 514.3 L479.9 514.9 L479.9 515.4 L479.9 515.9 L479.9 516.4 L479.9 516.8 L479.9 517.3 L479.9 517.6 L479.9 518.2 L479.9 518.7 L480.0 519.2 L480.0 519.6 L480.0 520.0 L480.0 520.5 L480.0 521.0 L480.0 521.4 L480.1 521.8 L480.1 522.3 L480.1 522.7 L480.1 523.1 L480.1 523.5 L480.2 523.9 L480.2 524.3 L480.2 524.7 L480.3 525.1 L480.3 525.5 L480.4 525.8 L480.4 526.2 L480.5 526.6 L480.6 526.9 L480.7 527.2 L480.8 527.5 L480.9 527.8 L481.0 528.1 L481.1 528.4 L481.3 528.6 L481.5 528.8 L481.7 529.1 L481.9 529.2 L482.1 529.4 L482.4 529.5 L482.7 529.7 L483.0 529.8 L483.3 529.9 L483.6 530.0 L483.9 530.1" fill="none" stroke="#0000ff" stroke-width="4.5" stroke-linejoin="round" stroke-linecap="round"/>
<path d="M120.5 533.7 L120.9 533.6 L121.3 533.5 L121.8 533.3 L122.2 533.2 L122.6 533.1 L123.0 533.0 L123.5 532.8 L123.9 532.7 L124.3 532.6 L124.7 532.5 L125.2 532.4 L125.6 532.2 L126.0 532.1 L126.4 532.0 L126.9 531.9 L127.3 531.7 L127.7 531.6 L128.1 531.5 L128.6 531.4 L129.0 531.2 L129.4 531.1 L129.8 531.0 L130.3 530.8 L130.7 530.7 L131.1 530.6 L131.5 530.4 L132.0 530.3 L132.4 530.2 L132.8 530.0 L133.2 529.9 L133.6 529.7 L134.1 529.6 L134.5 529.5 L134.9 529.3 L135.3 529.2 L135.8 529.0 L136.2 528.9 L136.6 528.7 L137.0 528.6 L137.5 528.4 L137.9 528.2 L138.3 528.1 L138.7 527.9 L139.2 527.8 L139.6 527.6 L140.0 527.4 L140.4 527.2 L140.9 527.1 L141.3 526.9 L141.7 526.7 L142.1 526.5 L142.6 526.3 L143.0 526.2 L143.4 526.0 L143.8 525.8 L144.3 525.6 L144.7 525.4 L145.1 525.1 L145.5 524.9 L145.9 524.7 L146.4 524.5 L146.8 524.3 L147.2 524.0 L147.6 523.8 L148.1 523.5 L148.5 523.3 L148.9 523.0 L149.3 522.8 L149.8 522.5 L150.2 522.2 L150.6 522.0 L151.0 521.7 L151.5 521.4 L151.9 521.1 L152.3 520.7 L152.7 520.4 L153.2 520.1 L153.6 519.7 L154.0 519.4 L154.4 519.0 L154.9 518.6 L155.1 518.4 L155.3 518.2 L155.5 518.0 L155.7 517.8 L155.9 517.6 L156.1 517.4 L156.3 517.2 L156.6 517.0 L156.8 516.8 L157.0 516.5 L157.2 516.3 L157.4 516.1 L157.6 515.8 L157.8 515.6 L158.0 515.3 L158.2 515.1 L158.5 514.8 L158.7 514.6 L158.9 514.3 L159.1 514.0 L159.3 513.7 L159.5 513.5 L159.7 513.2 L159.9 512.9 L160.2 512.6 L160.4 512.3 L160.6 511.9 L160.8 511.6 L161.0 511.3 L161.2 510.9 L161.4 510.6 L161.6 510.2 L161.9 509.9 L162.1 509.5 L162.3 509.1 L162.5 508.7 L162.7 508.3 L162.9 507.9 L163.1 507.5 L163.3 507.0 L163.5 506.6 L163.8 506.1 L164.0 505.6 L164.2 505.1 L164.4 504.6 L164.6 504.1 L164.8 503.6 L165.0 503.0 L165.2 502.5 L165.5 501.9 L165.7 501.3 L165.9 500.7 L166.1 500.0 L166.3 499.4 L166.5 498.7 L166.7 498.0 L166.9 497.3 L167.2 496.5 L167.4 495.7 L167.6 494.9 L167.8 494.0 L168.0 493.2 L168.1 492.8 L168.2 492.4 L168.2 492.1 L168.3 491.8 L168.4 491.4 L168.5 491.1 L168.5 490.8 L168.6 490.4 L168.7 490.0 L168.8 489.7 L168.8 489.3 L168.9 488.9 L169.0 488.6 L169.1 488.2 L169.1 487.8 L169.2 487.5 L169.3 487.1 L169.3 486.8 L169.4 486.4 L169.5 486.1 L169.5 485.7 L169.6 485.3 L169.6 485.0 L169.7 484.6 L169.8 484.2 L169.8 483.8 L169.9 483.4 L170.0 483.0 L170.0 482.6 L170.1 482.2 L170.2 481.8 L170.2 481.5 L170.3 481.1 L170.3 480.7 L170.4 480.4 L170.4 480.0 L170.5 479.6 L170.5 479.3 L170.6 478.9 L170.6 478.5 L170.7 478.1 L170.7 477.7 L170.8 477.3 L170.8 476.9 L170.9 476.5 L171.0 476.1 L171.0 475.6 L171.1 475.2 L171.1 474.8 L171.2 474.3 L171.2 473.9 L171.3 473.5 L171.3 473.2 L171.3 472.8 L171.4 472.4 L171.4 472.0 L171.5 471.7 L171.5 471.3 L171.6 470.9 L171.6 470.5 L171.6 470.1 L171.7 469.7 L171.7 469.3 L171.8 468.8 L171.8 468.4 L171.9 468.0 L171.9 467.6 L171.9 467.1 L172.0 466.7 L172.0 466.2 L172.1 465.8 L172.1 465.3 L172.1 464.9 L172.2 464.4 L172.2 463.9 L172.3 463.4 L172.3 463.0 L172.4 462.6 L172.4 462.2 L172.4 461.8 L172.4 461.5 L172.5 461.1 L172.5 460.7 L172.5 460.3 L172.6 459.9 L172.6 459.5 L172.6 459.1 L172.7 458.7 L172.7 458.3 L172.7 457.9 L172.8 457.4 L172.8 457.0 L172.8 456.6 L172.9 456.1 L172.9 455.7 L172.9 455.3 L173.0 454.8 L173.0 454.4 L173.0 453.9 L173.1 453.4 L173.1 453.0 L173.1 452.5 L173.1 452.0 L173.2 451.5 L173.2 451.1 L173.2 450.6 L173.3 450.1 L173.3 449.6 L173.3 449.0 L173.4 448.5 L173.4 448.0 L173.4 447.5 L173.5 446.9 L173.5 446.4 L173.5 445.9 L173.6 445.3 L173.6 444.7 L173.6 444.2 L173.6 443.8 L173.7 443.4 L173.7 443.0 L173.7 442.6 L173.7 442.2 L173.7 441.8 L173.8 441.4 L173.8 441.0 L173.8 440.6 L173.8 440.2 L173.9 439.8 L173.9 439.4 L173.9 439.0 L173.9 438.5 L173.9 438.1 L174.0 437.7 L174.0 437.3 L174.0 436.8 L174.0 436.4 L174.0 435.9 L174.1 435.5 L174.1 435.0 L174.1 434.6 L174.1 434.1 L174.2 433.6 L174.2 433.2 L174.2 432.7 L174.2 432.2 L174.2 431.7 L174.3 431.3 L174.3 430.8 L174.3 430.3 L174.3 429.8 L174.3 429.3 L174.4 428.8 L174.4 428.2 L174.4 427.7 L174.4 427.2 L174.4 426.7 L174.5 426.1 L174.5 425.6 L174.5 425.1 L174.5 424.5 L174.6 424.0 L174.6 423.4 L174.6 422.8 L174.6 422.3 L174.6 421.7 L174.7 421.1 L174.7 420.5 L174.7 420.0 L174.7 419.4 L174.7 418.8 L174.8 418.1 L174.8 417.5 L174.8 416.9 L174.8 416.3 L174.9 415.7 L174.9 415.0 L174.9 414.4 L174.9 413.7 L174.9 413.1 L175.0 412.4 L175.0 411.7 L175.0 411.0 L175.0 410.4 L175.0 409.7 L175.1 409.0 L175.1 408.3 L175.1 407.5 L175.1 406.8 L175.1 406.1 L175.2 405.3 L175.2 404.6 L175.2 403.8 L175.2 403.1 L175.3 402.3 L175.3 401.5 L175.3 401.1 L175.3 400.7 L175.3 400.3 L175.3 399.9 L175.3 399.5 L175.3 399.1 L175.4 398.7 L175.4 398.3 L175.4 397.9 L175.4 397.5 L175.4 397.1 L175.4 396.7 L175.4 396.2 L175.4 395.8 L175.4 395.4 L175.4 395.0 L175.5 394.5 L175.5 394.1 L175.5 393.7 L175.5 393.2 L175.5 392.8 L175.5 392.4 L175.5 391.9 L175.5 391.5 L175.5 391.0 L175.6 390.6 L175.6 390.1 L175.6 389.6 L175.6 389.2 L175.6 388.7 L175.6 388.3 L175.6 387.8 L175.6 387.3 L175.6 386.8 L175.6 386.4 L175.7 385.9 L175.7 385.4 L175.7 384.9 L175.7 384.4 L175.7 383.9 L175.7 383.4 L175.7 382.9 L175.7 382.4 L175.7 381.9 L175.8 381.4 L175.8 380.9 L175.8 380.4 L175.8 379.9 L175.8 379.4 L175.8 378.8 L175.8 378.3 L175.8 377.8 L175.8 377.3 L175.8 376.7 L175.9 376.2 L175.9 375.6 L175.9 375.1 L175.9 374.5 L175.9 374.0 L175.9 373.4 L175.9 372.9 L175.9 372.3 L175.9 371.7 L176.0 371.2 L176.0 370.6 L176.0 370.0 L176.0 369.4 L176.0 368.8 L176.0 368.3 L176.0 367.7 L176.0 367.1 L176.0 366.5 L176.1 365.9 L176.1 365.2 L176.1 364.6 L176.1 364.0 L176.1 363.4 L176.1 362.8 L176.1 362.1 L176.1 361.5 L176.1 360.9 L176.1 360.2 L176.2 359.6 L176.2 358.9 L176.2 358.3 L176.2 357.6 L176.2 357.0 L176.2 356.3 L176.2 355.6 L176.2 354.9 L176.2 354.2 L176.3 353.6 L176.3 352.9 L176.3 352.2 L176.3 351.5 L176.3 350.8 L176.3 350.1 L176.3 349.3 L176.3 348.6 L176.3 347.9 L176.3 347.2 L176.4 346.4 L176.4 345.7 L176.4 344.9 L176.4 344.2 L176.4 343.4 L176.4 342.7 L176.4 341.9 L176.4 341.1 L176.4 340.3 L176.5 339.6 L176.5 338.8 L176.5 338.0 L176.5 337.2 L176.5 336.4 L176.5 335.5 L176.5 334.7 L176.5 333.9 L176.5 333.1 L176.5 332.2 L176.6 331.4 L176.6 330.5 L176.6 329.7 L176.6 328.8 L176.6 328.0 L176.6 327.1 L176.6 326.2 L176.6 325.3 L176.6 324.4 L176.7 323.5 L176.7 322.6 L176.7 321.7 L176.7 320.8 L176.7 319.8 L176.7 318.9 L176.7 318.0 L176.7 317.0 L176.7 316.1 L176.8 315.1 L176.8 314.1 L176.8 313.1 L176.8 312.2 L176.8 311.2 L176.8 310.2 L176.8 309.2 L176.8 308.1 L176.8 307.1 L176.8 306.1 L176.9 305.0 L176.9 304.0 L176.9 302.9 L176.9 301.9 L176.9 300.8 L176.9 299.7 L176.9 298.6 L176.9 297.5 L176.9 296.4 L177.0 295.3 L177.0 294.2 L177.0 293.1 L177.0 291.9 L177.0 290.8 L177.0 289.6 L177.0 288.5 L177.0 287.3 L177.0 286.1 L177.0 284.9 L177.1 283.7 L177.1 282.5 L177.1 281.3 L177.1 280.0 L177.1 278.8 L177.1 277.6 L177.1 276.3 L177.1 275.0 L177.1 273.8 L177.2 272.5 L177.2 271.2 L177.2 269.9 L177.2 268.5 L177.2 267.2 L177.2 265.9 L177.2 264.5 L177.2 263.2 L177.2 261.8 L177.2 260.4 L177.3 259.0 L177.3 257.6 L177.3 256.2 L177.3 254.8 L177.3 253.4 L177.3 251.9 L177.3 250.5 L177.3 249.0 L177.3 247.5 L177.4 246.0 L177.4 244.5 L177.4 243.0 L177.4 241.5 L177.4 240.0 L177.4 238.4 L177.4 236.9 L177.4 235.3 L177.4 233.7 L177.5 232.1 L177.5 230.5 L177.5 228.9 L177.5 227.3 L177.5 225.7 L177.5 224.0 L177.5 222.4 L177.5 220.7 L177.5 219.0 L177.5 217.3 L177.6 215.7 L177.6 213.9 L177.6 212.2 L177.6 210.5 L177.6 208.7 L177.6 207.0 L177.6 205.2 L177.6 203.5 L177.6 201.7 L177.7 199.9 L177.7 198.1 L177.7 196.3 L177.7 194.4 L177.7 192.6 L177.7 190.8 L177.7 188.9 L177.7 187.0 L177.7 185.2 L177.7 183.3 L177.8 181.4 L177.8 179.5 L177.8 177.6 L177.8 175.7 L177.8 173.7 L177.8 171.8 L177.8 169.9 L177.8 167.9 L177.8 166.0 L177.9 164.0 L177.9 162.1 L177.9 160.1 L177.9 158.1 L177.9 156.1 L177.9 154.2 L177.9 152.2 L177.9 150.2 L177.9 148.2 L177.9 146.2 L178.0 144.2 L178.0 142.2 L178.0 140.2 L178.0 138.2 L178.0 136.2 L178.0 134.2 L178.0 132.2 L178.0 130.2 L178.0 128.2 L178.1 126.3 L178.1 124.3 L178.1 122.3 L178.1 120.3 L178.1 118.4 L178.1 116.4 L178.1 114.5 L178.1 112.5 L178.1 110.6 L178.2 108.7 L178.2 106.8 L178.2 104.9 L178.2 103.0 L178.2 101.2 L178.2 99.3 L178.2 97.5 L178.2 95.7 L178.2 93.9 L178.2 92.1 L178.3 90.4 L178.3 88.7 L178.3 87.0 L178.3 85.3 L178.3 83.6 L178.3 82.0 L178.3 80.4 L178.3 78.9 L178.3 77.3 L178.4 75.8 L178.4 74.3 L178.4 72.9 L178.4 71.5 L178.4 70.1 L178.4 68.8 L178.4 67.5 L178.4 66.2 L178.4 65.0 L178.4 63.9 L178.5 62.7 L178.5 61.6 L178.5 60.6 L178.5 59.6 L178.5 58.6 L178.5 57.7 L178.5 56.9 L178.5 56.1 L178.5 55.3 L178.6 54.6 L178.6 53.9 L178.6 53.3 L178.6 52.7 L178.6 52.2 L178.6 51.8 L178.6 51.4 L178.6 50.7 L178.7 50.3 L178.7 50.7 L178.8 51.4 L178.8 51.8 L178.8 52.2 L178.8 52.7 L178.8 53.3 L178.8 53.9 L178.8 54.6 L178.8 55.3 L178.9 56.0 L178.9 56.8 L178.9 57.7 L178.9 58.6 L178.9 59.5 L178.9 60.5 L178.9 61.6 L178.9 62.6 L178.9 63.7 L178.9 64.9 L179.0 66.1 L179.0 67.3 L179.0 68.6 L179.0 69.9 L179.0 71.3 L179.0 72.7 L179.0 74.1 L179.0 75.5 L179.0 77.0 L179.1 78.5 L179.1 80.1 L179.1 81.6 L179.1 83.2 L179.1 84.9 L179.1 86.5 L179.1 88.2 L179.1 89.9 L179.1 91.6 L179.1 93.3 L179.2 95.1 L179.2 96.8 L179.2 98.6 L179.2 100.4 L179.2 102.3 L179.2 104.1 L179.2 105.9 L179.2 107.8 L179.2 109.7 L179.3 111.6 L179.3 113.5 L179.3 115.4 L179.3 117.3 L179.3 119.2 L179.3 121.1 L179.3 123.0 L179.3 125.0 L179.3 126.9 L179.3 128.9 L179.4 130.8 L179.4 132.7 L179.4 134.7 L179.4 136.6 L179.4 138.6 L179.4 140.5 L179.4 142.5 L179.4 144.4 L179.4 146.4 L179.5 148.3 L179.5 150.3 L179.5 152.2 L179.5 154.1 L179.5 156.1 L179.5 158.0 L179.5 159.9 L179.5 161.8 L179.5 163.7 L179.5 165.6 L179.6 167.5 L179.6 169.4 L179.6 171.3 L179.6 173.2 L179.6 175.0 L179.6 176.9 L179.6 178.8 L179.6 180.6 L179.6 182.4 L179.7 184.3 L179.7 186.1 L179.7 187.9 L179.7 189.7 L179.7 191.5 L179.7 193.2 L179.7 195.0 L179.7 196.8 L179.7 198.5 L179.8 200.3 L179.8 202.0 L179.8 203.7 L179.8 205.4 L179.8 207.1 L179.8 208.8 L179.8 210.5 L179.8 212.1 L179.8 213.8 L179.8 215.4 L179.9 217.1 L179.9 218.7 L179.9 220.3 L179.9 221.9 L179.9 223.5 L179.9 225.1 L179.9 226.7 L179.9 228.2 L179.9 229.8 L180.0 231.3 L180.0 232.8 L180.0 234.3 L180.0 235.9 L180.0 237.3 L180.0 238.8 L180.0 240.3 L180.0 241.8 L180.0 243.2 L180.0 244.7 L180.1 246.1 L180.1 247.5 L180.1 248.9 L180.1 250.3 L180.1 251.7 L180.1 253.1 L180.1 254.4 L180.1 255.8 L180.1 257.2 L180.2 258.5 L180.2 259.8 L180.2 261.1 L180.2 262.4 L180.2 263.7 L180.2 265.0 L180.2 266.3 L180.2 267.6 L180.2 268.8 L180.2 270.1 L180.3 271.3 L180.3 272.6 L180.3 273.8 L180.3 275.0 L180.3 276.2 L180.3 277.4 L180.3 278.6 L180.3 279.7 L180.3 280.9 L180.4 282.1 L180.4 283.2 L180.4 284.3 L180.4 285.5 L180.4 286.6 L180.4 287.7 L180.4 288.8 L180.4 289.9 L180.4 291.0 L180.5 292.1 L180.5 293.2 L180.5 294.2 L180.5 295.3 L180.5 296.3 L180.5 297.4 L180.5 298.4 L180.5 299.4 L180.5 300.4 L180.5 301.5 L180.6 302.5 L180.6 303.5 L180.6 304.4 L180.6 305.4 L180.6 306.4 L180.6 307.4 L180.6 308.3 L180.6 309.3 L180.6 310.2 L180.7 311.1 L180.7 312.1 L180.7 313.0 L180.7 313.9 L180.7 314.8 L180.7 315.7 L180.7 316.6 L180.7 317.5 L180.7 318.4 L180.7 319.3 L180.8 320.1 L180.8 321.0 L180.8 321.9 L180.8 322.7 L180.8 323.6 L180.8 324.4 L180.8 325.2 L180.8 326.1 L180.8 326.9 L180.9 327.7 L180.9 328.5 L180.9 329.3 L180.9 330.1 L180.9 330.9 L180.9 331.7 L180.9 332.5 L180.9 333.2 L180.9 334.0 L180.9 334.8 L181.0 335.5 L181.0 336.3 L181.0 337.0 L181.0 337.8 L181.0 338.5 L181.0 339.2 L181.0 340.0 L181.0 340.7 L181.0 341.4 L181.1 342.1 L181.1 342.8 L181.1 343.5 L181.1 344.2 L181.1 344.9 L181.1 345.6 L181.1 346.3 L181.1 347.0 L181.1 347.7 L181.2 348.3 L181.2 349.0 L181.2 349.7 L181.2 350.3 L181.2 351.0 L181.2 351.6 L181.2 352.3 L181.2 352.9 L181.2 353.5 L181.2 354.2 L181.3 354.8 L181.3 355.4 L181.3 356.0 L181.3 356.6 L181.3 357.3 L181.3 357.9 L181.3 358.5 L181.3 359.1 L181.3 359.7 L181.4 360.3 L181.4 360.8 L181.4 361.4 L181.4 362.0 L181.4 362.6 L181.4 363.2 L181.4 363.7 L181.4 364.3 L181.4 364.8 L181.4 365.4 L181.5 366.0 L181.5 366.5 L181.5 367.1 L181.5 367.6 L181.5 368.1 L181.5 368.7 L181.5 369.2 L181.5 369.7 L181.5 370.3 L181.6 370.8 L181.6 371.3 L181.6 371.8 L181.6 372.4 L181.6 372.9 L181.6 373.4 L181.6 373.9 L181.6 374.4 L181.6 374.9 L181.6 375.4 L181.7 375.9 L181.7 376.4 L181.7 376.8 L181.7 377.3 L181.7 377.8 L181.7 378.3 L181.7 378.8 L181.7 379.2 L181.7 379.7 L181.8 380.2 L181.8 380.6 L181.8 381.1 L181.8 381.6 L181.8 382.0 L181.8 382.5 L181.8 382.9 L181.8 383.4 L181.8 383.8 L181.9 384.3 L181.9 384.7 L181.9 385.1 L181.9 385.6 L181.9 386.0 L181.9 386.4 L181.9 386.9 L181.9 387.3 L181.9 387.7 L181.9 388.1 L182.0 388.6 L182.0 389.0 L182.0 389.4 L182.0 389.8 L182.0 390.2 L182.0 390.6 L182.0 391.0 L182.0 391.4 L182.0 391.8 L182.1 392.2 L182.1 392.6 L182.1 393.0 L182.1 393.4 L182.1 393.8 L182.1 394.6 L182.1 395.3 L182.2 396.1 L182.2 396.8 L182.2 397.6 L182.2 398.3 L182.2 399.0 L182.3 399.8 L182.3 400.5 L182.3 401.2 L182.3 401.9 L182.3 402.6 L182.4 403.2 L182.4 403.9 L182.4 404.6 L182.4 405.2 L182.5 405.9 L182.5 406.5 L182.5 407.2 L182.5 407.8 L182.5 408.4 L182.6 409.1 L182.6 409.7 L182.6 410.3 L182.6 410.9 L182.6 411.5 L182.7 412.1 L182.7 412.7 L182.7 413.2 L182.7 413.8 L182.8 414.4 L182.8 414.9 L182.8 415.5 L182.8 416.1 L182.8 416.6 L182.9 417.2 L182.9 417.7 L182.9 418.2 L182.9 418.8 L182.9 419.3 L183.0 419.8 L183.0 420.3 L183.0 420.8 L183.0 421.3 L183.0 421.8 L183.1 422.3 L183.1 422.8 L183.1 423.3 L183.1 423.8 L183.2 424.3 L183.2 424.7 L183.2 425.2 L183.2 425.7 L183.2 426.1 L183.3 426.6 L183.3 427.0 L183.3 427.5 L183.3 427.9 L183.3 428.4 L183.4 428.8 L183.4 429.3 L183.4 429.7 L183.4 430.1 L183.5 430.5 L183.5 431.0 L183.5 431.4 L183.5 431.8 L183.5 432.2 L183.6 432.6 L183.6 433.0 L183.6 433.4 L183.6 433.8 L183.6 434.2 L183.7 434.6 L183.7 435.0 L183.7 435.4 L183.7 435.8 L183.7 436.1 L183.8 436.7 L183.8 437.3 L183.8 437.8 L183.9 438.3 L183.9 438.9 L183.9 439.4 L184.0 439.9 L184.0 440.5 L184.0 441.0 L184.1 441.5 L184.1 442.0 L184.1 442.5 L184.2 443.0 L184.2 443.5 L184.2 443.9 L184.3 444.4 L184.3 444.9 L184.3 445.3 L184.4 445.8 L184.4 446.3 L184.4 446.7 L184.4 447.2 L184.5 447.6 L184.5 448.0 L184.5 448.5 L184.6 448.9 L184.6 449.3 L184.6 449.7 L184.7 450.1 L184.7 450.6 L184.7 451.0 L184.8 451.4 L184.8 451.8 L184.8 452.2 L184.9 452.5 L184.9 452.9 L184.9 453.3 L185.0 453.7 L185.0 454.1 L185.0 454.4 L185.1 454.9 L185.1 455.4 L185.1 455.9 L185.2 456.4 L185.2 456.8 L185.3 457.3 L185.3 457.7 L185.4 458.2 L185.4 458.6 L185.4 459.1 L185.5 459.5 L185.5 459.9 L185.6 460.3 L185.6 460.8 L185.7 461.2 L185.7 461.6 L185.7 462.0 L185.8 462.4 L185.8 462.8 L185.9 463.2 L185.9 463.6 L186.0 463.9 L186.0 464.3 L186.0 464.7 L186.1 465.0 L186.1 465.4 L186.2 465.8 L186.2 466.2 L186.3 466.7 L186.3 467.1 L186.4 467.5 L186.4 467.9 L186.5 468.3 L186.5 468.8 L186.6 469.2 L186.6 469.6 L186.7 470.0 L186.7 470.3 L186.8 470.7 L186.9 471.1 L186.9 471.5 L187.0 471.9 L187.0 472.2 L187.1 472.6 L187.1 472.9 L187.2 473.3 L187.2 473.6 L187.3 474.0 L187.4 474.4 L187.4 474.8 L187.5 475.2 L187.5 475.6 L187.6 476.0 L187.7 476.4 L187.7 476.8 L187.8 477.1 L187.9 477.5 L187.9 477.9 L188.0 478.2 L188.1 478.6 L188.1 478.9 L188.2 479.2 L188.3 479.6 L188.3 480.0 L188.4 480.4 L188.5 480.8 L188.6 481.1 L188.6 481.5 L188.7 481.9 L188.8 482.2 L188.8 482.6 L188.9 482.9 L189.0 483.2 L189.1 483.6 L189.1 483.9 L189.2 484.3 L189.4 485.1 L189.6 485.9 L189.8 486.8 L190.1 487.6 L190.3 488.4 L190.5 489.1 L190.7 489.8 L190.9 490.5 L191.1 491.2 L191.3 491.8 L191.5 492.5 L191.8 493.1 L192.0 493.7 L192.2 494.2 L192.4 494.8 L192.6 495.3 L192.8 495.9 L193.0 496.4 L193.2 496.9 L193.5 497.3 L193.7 497.8 L193.9 498.3 L194.1 498.7 L194.3 499.1 L194.5 499.6 L194.7 500.0 L194.9 500.4 L195.1 500.7 L195.4 501.1 L195.6 501.5 L195.8 501.9 L196.0 502.2 L196.2 502.5 L196.4 502.9 L196.6 503.2 L196.8 503.5 L197.1 503.8 L197.3 504.1 L197.5 504.4 L197.7 504.7 L197.9 505.0 L198.1 505.3 L198.3 505.6 L198.5 505.8 L198.8 506.1 L199.0 506.4 L199.2 506.6 L199.4 506.8 L199.6 507.1 L199.8 507.3 L200.0 507.6 L200.2 507.8 L200.4 508.0 L200.7 508.2 L200.9 508.4 L201.1 508.7 L201.3 508.9 L201.5 509.1 L201.7 509.3 L201.9 509.5 L202.1 509.7 L202.4 509.8 L202.8 510.2 L203.2 510.6 L203.6 510.9 L204.1 511.2 L204.5 511.6 L204.9 511.9 L205.3 512.2 L205.8 512.5 L206.2 512.8 L206.6 513.0 L207.0 513.3 L207.4 513.6 L207.9 513.8 L208.3 514.1 L208.7 514.3 L209.1 514.5 L209.6 514.8 L210.0 515.0 L210.4 515.2 L210.8 515.4 L211.3 515.6 L211.7 515.8 L212.1 516.0 L212.5 516.2 L213.0 516.4 L213.4 516.6 L213.8 516.8 L214.2 516.9 L214.7 517.1 L215.1 517.3 L215.5 517.4 L215.9 517.6 L216.4 517.7 L216.8 517.9 L217.2 518.0 L217.6 518.2 L218.1 518.3 L218.5 518.5 L218.9 518.6 L219.3 518.7 L219.7 518.9 L220.2 519.0 L220.6 519.1 L221.0 519.2 L221.4 519.4 L221.9 519.5 L222.3 519.6 L222.7 519.7 L223.1 519.8 L223.6 519.9 L224.0 520.0 L224.4 520.2 L224.8 520.3 L225.3 520.4 L225.7 520.5 L226.1 520.6 L226.5 520.7 L227.0 520.8 L227.4 520.8 L227.8 520.9 L228.2 521.0 L228.7 521.1 L229.1 521.2 L229.5 521.3 L229.9 521.4 L230.4 521.5 L230.8 521.6 L231.2 521.6 L231.6 521.7 L232.0 521.8 L232.5 521.9 L232.9 522.0 L233.3 522.0 L233.7 522.1 L234.2 522.2 L234.6 522.3 L235.0 522.3 L235.4 522.4 L235.9 522.5 L236.3 522.5 L236.7 522.6 L237.1 522.7 L237.6 522.7 L238.0 522.8 L238.4 522.9 L238.8 522.9 L239.3 523.0 L239.7 523.1 L240.1 523.1 L240.5 523.2 L241.0 523.2 L241.4 523.3 L241.8 523.4 L242.2 523.4 L242.7 523.5 L243.1 523.5 L243.5 523.6 L243.9 523.6 L244.3 523.7 L244.8 523.7 L245.2 523.8 L245.6 523.8 L246.0 523.9 L246.5 524.0 L246.9 524.0 L247.3 524.1 L247.7 524.1 L248.2 524.1 L248.6 524.2 L249.0 524.2 L249.4 524.3 L249.9 524.3 L250.3 524.4 L250.7 524.4 L251.1 524.5 L251.6 524.5 L252.0 524.6 L252.4 524.6 L252.8 524.7 L253.3 524.7 L253.7 524.7 L254.1 524.8 L254.5 524.8 L255.0 524.9 L255.4 524.9 L255.8 524.9 L256.2 525.0 L256.6 525.0 L257.1 525.1 L257.5 525.1 L257.9 525.1 L258.3 525.2 L258.8 525.2 L259.2 525.2 L259.6 525.3 L260.0 525.3 L260.5 525.4 L260.9 525.4 L261.3 525.4 L261.7 525.5 L262.2 525.5 L262.6 525.5 L263.0 525.6 L263.4 525.6 L263.9 525.6 L264.3 525.7 L264.7 525.7 L265.1 525.7 L265.6 525.8 L266.0 525.8 L266.4 525.8 L266.8 525.9 L267.3 525.9 L267.7 525.9 L268.1 526.0 L268.5 526.0 L268.9 526.0 L269.4 526.0 L269.8 526.1 L270.2 526.1 L270.6 526.1 L271.1 526.2 L271.5 526.2 L271.9 526.2 L272.3 526.2 L272.8 526.3 L273.2 526.3 L273.6 526.3 L274.0 526.4 L274.5 526.4 L274.9 526.4 L275.3 526.4 L275.7 526.5 L276.2 526.5 L276.6 526.5 L277.0 526.5 L277.4 526.6 L277.9 526.6 L278.3 526.6 L278.7 526.6 L279.1 526.7 L279.6 526.7 L280.0 526.7 L280.4 526.7 L280.8 526.8 L281.2 526.8 L281.7 526.8 L282.1 526.8 L282.5 526.9 L282.9 526.9 L283.4 526.9 L283.8 526.9 L284.2 527.0 L284.6 527.0 L285.1 527.0 L285.5 527.0 L285.9 527.0 L286.3 527.1 L286.8 527.1 L287.2 527.1 L287.6 527.1 L288.0 527.2 L288.5 527.2 L288.9 527.2 L289.3 527.2 L289.7 527.2 L290.2 527.3 L290.6 527.3 L291.0 527.3 L291.4 527.3 L291.8 527.3 L292.3 527.4 L292.7 527.4 L293.1 527.4 L293.5 527.4 L294.0 527.4 L294.4 527.5 L294.8 527.5 L295.2 527.5 L295.7 527.5 L296.1 527.5 L296.5 527.6 L296.9 527.6 L297.4 527.6 L297.8 527.6 L298.2 527.6 L298.6 527.6 L299.1 527.7 L299.5 527.7 L299.9 527.7 L300.3 527.7 L300.8 527.7 L301.2 527.7 L301.6 527.8 L302.0 527.8 L302.5 527.8 L302.9 527.8 L303.3 527.8 L303.7 527.9 L304.1 527.9 L304.6 527.9 L305.0 527.9 L305.4 527.9 L305.8 527.9 L306.3 527.9 L306.7 528.0 L307.1 528.0 L307.5 528.0 L308.0 528.0 L308.4 528.0 L308.8 528.0 L309.2 528.1 L309.7 528.1 L310.1 528.1 L310.5 528.1 L310.9 528.1 L311.4 528.1 L311.8 528.2 L312.2 528.2 L312.6 528.2 L313.1 528.2 L313.5 528.2 L313.9 528.2 L314.3 528.2 L314.8 528.3 L315.2 528.3 L315.6 528.3 L316.0 528.3 L316.4 528.3 L316.9 528.3 L317.3 528.3 L317.7 528.4 L318.1 528.4 L318.6 528.4 L319.0 528.4 L319.4 528.4 L319.8 528.4 L320.3 528.4 L320.7 528.4 L321.1 528.5 L321.5 528.5 L322.0 528.5 L322.4 528.5 L322.8 528.5 L323.2 528.5 L323.7 528.5 L324.1 528.6 L324.5 528.6 L324.9 528.6 L325.4 528.6 L325.8 528.6 L326.2 528.6 L326.6 528.6 L327.1 528.6 L327.5 528.7 L327.9 528.7 L328.3 528.7 L328.7 528.7 L329.2 528.7 L329.6 528.7 L330.0 528.7 L330.4 528.7 L330.9 528.8 L331.3 528.8 L331.7 528.8 L332.1 528.8 L332.6 528.8 L333.0 528.8 L333.4 528.8 L333.8 528.8 L334.3 528.8 L334.7 528.9 L335.1 528.9 L335.5 528.9 L336.0 528.9 L336.4 528.9 L336.8 528.9 L337.2 528.9 L337.7 528.9 L338.1 528.9 L338.5 529.0 L338.9 529.0 L339.4 529.0 L339.8 529.0 L340.2 529.0 L340.6 529.0 L341.0 529.0 L341.5 529.0 L341.9 529.0 L342.3 529.1 L342.7 529.1 L343.2 529.1 L343.6 529.1 L344.0 529.1 L344.4 529.1 L344.9 529.1 L345.3 529.1 L345.7 529.1 L346.1 529.1 L346.6 529.2 L347.0 529.2 L347.4 529.2 L347.8 529.2 L348.3 529.2 L348.7 529.2 L349.1 529.2 L349.5 529.2 L350.0 529.2 L350.4 529.2 L350.8 529.3 L351.2 529.3 L351.7 529.3 L352.1 529.3 L352.5 529.3 L352.9 529.3 L353.3 529.3 L353.8 529.3 L354.2 529.3 L354.6 529.3 L355.0 529.3 L355.5 529.4 L355.9 529.4 L356.3 529.4 L356.7 529.4 L357.2 529.4 L357.6 529.4 L358.0 529.4 L358.4 529.4 L358.9 529.4 L359.3 529.4 L359.7 529.4 L360.1 529.5 L360.6 529.5 L361.0 529.5 L361.4 529.5 L361.8 529.5 L362.3 529.5 L362.7 529.5 L363.1 529.5 L363.5 529.5 L364.0 529.5 L364.4 529.5 L364.8 529.6 L365.2 529.6 L365.6 529.6 L366.1 529.6 L366.5 529.6 L366.9 529.6 L367.3 529.6 L367.8 529.6 L368.2 529.6 L368.6 529.6 L369.0 529.6 L369.5 529.6 L369.9 529.7 L370.3 529.7 L370.7 529.7 L371.2 529.7 L371.6 529.7 L372.0 529.7 L372.4 529.7 L372.9 529.7 L373.3 529.7 L373.7 529.7 L374.1 529.7 L374.6 529.7 L375.0 529.7 L375.4 529.8 L375.8 529.8 L376.3 529.8 L376.7 529.8 L377.1 529.8 L377.5 529.8 L377.9 529.8 L378.4 529.8 L378.8 529.8 L379.2 529.8 L379.6 529.8 L380.1 529.8 L380.5 529.8 L380.9 529.9 L381.3 529.9 L381.8 529.9 L382.2 529.9 L382.6 529.9 L383.0 529.9 L383.5 529.9 L383.9 529.9 L384.3 529.9 L384.7 529.9 L385.2 529.9 L385.6 529.9 L386.0 529.9 L386.4 530.0 L386.9 530.0 L387.3 530.0 L387.7 530.0 L388.1 530.0 L388.6 530.0 L389.0 530.0 L389.4 530.0 L389.8 530.0 L390.2 530.0 L390.7 530.0 L391.1 530.0 L391.5 530.0 L391.9 530.1 L392.4 530.1 L392.8 530.1 L393.2 530.1 L393.6 530.1 L394.1 530.1 L394.5 530.1 L394.9 530.1 L395.3 530.1 L395.8 530.1 L396.2 530.1 L396.6 530.1 L397.0 530.1 L397.5 530.1 L397.9 530.2 L398.3 530.2 L398.7 530.2 L399.2 530.2 L399.6 530.2 L400.0 530.2 L400.4 530.2 L400.9 530.2 L401.3 530.2 L401.7 530.2 L402.1 530.2 L402.5 530.2 L403.0 530.2 L403.4 530.3 L403.8 530.3 L404.2 530.3 L404.7 530.3 L405.1 530.3 L405.5 530.3 L405.9 530.3 L406.4 530.3 L406.8 530.3 L407.2 530.3 L407.6 530.3 L408.1 530.3 L408.5 530.3 L408.9 530.4 L409.3 530.4 L409.8 530.4 L410.2 530.4 L410.6 530.4 L411.0 530.4 L411.5 530.4 L411.9 530.4 L412.3 530.4 L412.7 530.4 L413.2 530.4 L413.6 530.5 L414.0 530.5 L414.4 530.5 L414.8 530.5 L415.3 530.5 L415.7 530.5 L416.1 530.5 L416.5 530.5 L417.0 530.5 L417.4 530.5 L417.8 530.6 L418.2 530.6 L418.7 530.6 L419.1 530.6 L419.5 530.6 L419.9 530.6 L420.4 530.6 L420.8 530.7 L421.2 530.7 L421.6 530.7 L422.1 530.7 L422.5 530.7 L422.9 530.7 L423.3 530.8 L423.8 530.8 L424.2 530.8 L424.6 530.8 L425.0 530.9 L425.5 530.9 L425.9 530.9 L426.3 531.0 L426.7 531.0 L427.1 531.0 L427.4 531.1 L427.8 531.1 L428.2 531.2 L428.5 531.2 L428.8 531.3 L429.0 530.4 L429.4 530.5 L429.8 530.5 L430.2 530.5 L430.6 530.5 L431.0 530.5 L431.4 530.5 L431.8 530.5 L432.2 530.5 L432.6 530.5 L433.0 530.5 L433.4 530.5 L433.8 530.5 L434.2 530.5 L434.6 530.5 L435.0 530.5 L435.4 530.5 L435.8 530.5 L436.2 530.5 L436.6 530.5 L437.0 530.5 L437.4 530.5 L437.5 529.6 L437.8 529.7 L438.2 529.8 L438.5 529.8 L438.9 529.9 L439.2 529.9 L439.6 530.0 L440.1 530.0 L440.5 530.0 L440.9 530.1 L441.4 530.1 L441.8 530.1 L442.2 530.2 L442.6 530.2 L443.1 530.2 L443.5 530.2 L443.9 530.2 L444.3 530.3 L444.7 530.3 L445.2 530.3 L445.6 530.3 L446.0 530.3 L446.4 530.3 L446.9 530.3 L447.3 530.4 L447.7 530.4 L448.1 530.4 L448.6 530.4 L449.0 530.4 L449.4 530.4 L449.8 530.4 L450.3 530.4 L450.7 530.4 L451.1 530.5 L451.5 530.5 L452.0 530.5 L452.4 530.5 L452.8 530.5 L453.2 530.5 L453.7 530.5 L454.1 530.5 L454.5 530.5 L454.9 530.5 L455.4 530.5 L455.8 530.5 L456.2 530.6 L456.6 530.6 L457.0 530.6 L457.5 530.6 L457.9 530.6 L458.3 530.6 L458.7 530.6 L459.2 530.6 L459.6 530.6 L460.0 530.6 L460.4 530.6 L460.9 530.6 L461.3 530.6 L461.7 530.6 L462.1 530.6 L462.6 530.7 L463.0 530.7 L463.4 530.7 L463.8 530.7 L464.3 530.7 L464.7 530.7 L465.1 530.7 L465.5 530.7 L466.0 530.7 L466.4 530.7 L466.8 530.7 L467.2 530.7 L467.7 530.7 L468.1 530.7 L468.5 530.7 L468.9 530.7 L469.3 530.7 L469.8 530.7 L470.2 530.7 L470.6 530.7 L471.0 530.8 L471.5 530.8 L471.9 530.8 L472.3 530.8 L472.7 530.8 L473.2 530.8 L473.6 530.8 L474.0 530.8 L474.4 530.8 L474.9 530.8 L475.3 530.8 L475.7 530.8 L476.1 530.8 L476.6 530.8 L477.0 530.8 L477.4 530.8 L477.8 530.8 L478.3 530.8 L478.7 530.8 L479.1 530.8 L479.5 530.8 L480.0 530.8 L480.4 530.9 L480.8 530.9 L481.2 530.9 L481.6 530.9 L482.1 530.9 L482.5 530.9 L482.9 530.9 L483.3 530.9 L483.8 530.9 L484.2 530.9 L484.6 530.9 L485.0 530.9 L485.5 530.9 L485.9 530.9 L486.3 530.9 L486.7 530.9 L487.2 530.9 L487.6 530.9 L488.0 530.9 L488.4 530.9 L488.9 530.9 L489.3 530.9 L489.7 530.9 L490.1 530.9 L490.6 530.9 L491.0 531.0 L491.4 531.0 L491.8 531.0 L492.3 531.0 L492.7 531.0 L493.1 531.0 L493.5 531.0 L493.9 531.0 L494.4 531.0 L494.8 531.0 L495.2 531.0 L495.6 531.0 L496.1 531.0 L496.5 531.0 L496.9 531.0 L497.3 531.0 L497.8 531.0 L498.2 531.0 L498.6 531.0 L499.0 531.0 L499.5 531.0 L499.9 531.0 L500.3 531.0 L500.7 531.0 L501.2 531.0 L501.6 531.0 L502.0 531.0 L502.4 531.0 L502.9 531.0 L503.3 531.1 L503.7 531.1 L504.1 531.1 L504.6 531.1 L505.0 531.1 L505.4 531.1 L505.8 531.1 L506.2 531.1 L506.7 531.1 L507.1 531.1 L507.5 531.1 L507.9 531.1 L508.4 531.1 L508.8 531.1 L509.2 531.1 L509.6 531.1 L510.1 531.1 L510.5 531.1 L510.9 531.1 L511.3 531.1 L511.8 531.1 L512.2 531.1 L512.6 531.1 L513.0 531.1 L513.5 531.1 L513.9 531.1 L514.3 531.1 L514.7 531.1 L515.2 531.1 L515.6 531.1 L516.0 531.1 L516.4 531.2 L516.9 531.2 L517.3 531.2 L517.7 531.2 L518.1 531.2 L518.5 531.2 L519.0 531.2 L519.4 531.2 L519.8 531.2 L520.2 531.2 L520.7 531.2 L521.1 531.2 L521.5 531.2 L521.9 531.2 L522.4 531.2 L522.8 531.2 L523.2 531.2 L523.6 531.2 L524.1 531.2 L524.5 531.2 L524.9 531.2 L525.3 531.2 L525.8 531.2 L526.2 531.2 L526.6 531.2 L527.0 531.2 L527.5 531.2 L527.9 531.2 L528.3 531.2 L528.7 531.2 L529.2 531.2 L529.6 531.2 L530.0 531.2 L530.4 531.2 L530.8 531.2 L531.3 531.3 L531.7 531.3 L532.1 531.3 L532.5 531.3 L533.0 531.3 L533.4 531.3 L533.8 531.3 L534.2 531.3 L534.7 531.3 L535.1 531.3 L535.5 531.3 L535.9 531.3 L536.4 531.3 L536.8 531.3 L537.2 531.3 L537.6 531.3 L538.1 531.3 L538.5 531.3 L538.9 531.3 L539.3 531.3 L539.8 531.3 L540.2 531.3 L540.6 531.3 L541.0 531.3 L541.5 531.3 L541.9 531.3 L542.3 531.3 L542.7 531.3 L543.1 531.3 L543.6 531.3 L544.0 531.3 L544.4 531.3 L544.8 531.3 L545.3 531.3 L545.7 531.3 L546.1 531.3 L546.5 531.3 L547.0 531.3 L547.4 531.4 L547.8 531.4 L548.2 531.4 L548.7 531.4 L549.1 531.4 L549.5 531.4 L549.9 531.4 L550.4 531.4 L550.8 531.4 L551.2 531.4 L551.6 531.4 L552.1 531.4 L552.5 531.4 L552.9 531.4 L553.3 531.4 L553.8 531.4 L554.2 531.4 L554.6 531.4 L555.0 531.4 L555.4 531.4 L555.9 531.4 L556.3 531.4 L556.7 531.4 L557.1 531.4 L557.6 531.4 L558.0 531.4 L558.4 531.4 L558.8 531.4 L559.3 531.4 L559.7 531.4 L560.1 531.4 L560.5 531.4 L561.0 531.4 L561.4 531.4 L561.8 531.4 L562.2 531.4 L562.7 531.4 L563.1 531.4 L563.5 531.4 L563.9 531.4 L564.4 531.4 L564.8 531.5 L565.2 531.5 L565.6 531.5 L566.1 531.5 L566.5 531.5 L566.9 531.5 L567.3 531.5 L567.7 531.5 L568.2 531.5 L568.6 531.5 L569.0 531.5 L569.4 531.5 L569.9 531.5 L570.3 531.5 L570.7 531.5 L571.1 531.5 L571.6 531.5 L572.0 531.5 L572.4 531.5 L572.8 531.5 L573.3 531.5 L573.7 531.5 L574.1 531.5 L574.5 531.5 L575.0 531.5 L575.4 531.5 L575.8 531.5 L576.2 531.5 L576.7 531.5 L577.1 531.5 L577.5 531.5 L577.9 531.5 L578.4 531.5 L578.8 531.5 L579.2 531.5 L579.6 531.5 L580.0 531.5 L580.5 531.5 L580.9 531.5 L581.3 531.5 L581.7 531.5 L582.2 531.5 L582.6 531.5 L583.0 531.5 L583.4 531.5 L583.9 531.5 L584.3 531.6 L584.7 531.6 L585.1 531.6 L585.6 531.6 L586.0 531.6 L586.4 531.6 L586.8 531.6 L587.3 531.6 L587.7 531.6 L588.1 531.6 L588.5 531.6 L589.0 531.6 L589.4 531.6 L589.8 531.6 L590.2 531.6 L590.7 531.6 L591.1 531.6 L591.5 531.6 L591.9 531.6 L592.3 531.6 L592.8 531.6 L593.2 531.6 L593.6 531.6 L594.0 531.6 L594.5 531.6 L594.9 531.6 L595.3 531.6 L595.7 531.6 L596.2 531.6 L596.6 531.6 L597.0 531.6 L597.4 531.6 L597.9 531.6 L598.3 531.6 L598.7 531.6 L599.1 531.6 L599.6 531.6 L600.0 531.6 L600.4 531.6 L600.8 531.6 L601.3 531.6 L601.7 531.6 L602.1 531.6 L602.5 531.6 L603.0 531.6 L603.4 531.6 L603.8 531.6 L604.2 531.6 L604.6 531.6 L605.1 531.6 L605.5 531.6 L605.9 531.7 L606.3 531.7 L606.8 531.7 L607.2 531.7 L607.6 531.7 L608.0 531.7 L608.5 531.7 L608.9 531.7 L609.3 531.7 L609.7 531.7 L610.2 531.7 L610.6 531.7 L611.0 531.7 L611.4 531.7 L611.9 531.7 L612.3 531.7 L612.7 531.7 L613.1 531.7 L613.6 531.7 L614.0 531.7 L614.4 531.7 L614.8 531.7 L615.3 531.7 L615.7 531.7 L616.1 531.7 L616.5 531.7 L616.9 531.7 L617.4 531.7 L617.8 531.7 L618.2 531.7 L618.6 531.7 L619.1 531.7 L619.5 531.7 L619.9 531.7 L620.3 531.7 L620.8 531.7 L621.2 531.7 L621.6 531.7 L622.0 531.7 L622.5 531.7 L622.9 531.7 L623.3 531.7 L623.7 531.7 L624.2 531.7 L624.6 531.7 L625.0 531.7 L625.4 531.7 L625.9 531.7 L626.3 531.7 L626.7 531.7 L627.1 531.7 L627.6 531.7 L628.0 531.7 L628.4 531.7 L628.8 531.7 L629.2 531.7 L629.7 531.8 L630.1 531.8 L630.5 531.8 L630.9 531.8 L631.4 531.8 L631.8 531.8 L632.2 531.8 L632.6 531.8 L633.1 531.8 L633.5 531.8 L633.9 531.8 L634.3 531.8 L634.8 531.8 L635.2 531.8 L635.6 531.8 L636.0 531.8 L636.5 531.8 L636.9 531.8 L637.3 531.8 L637.7 531.8 L638.2 531.8 L638.6 531.8 L639.0 531.8 L639.4 531.8 L639.9 531.8 L640.3 531.8 L640.7 531.8 L641.1 531.8 L641.5 531.8 L642.0 531.8 L642.4 531.8 L642.8 531.8 L643.2 531.8 L643.7 531.8 L644.1 531.8 L644.5 531.8 L644.9 531.8 L645.4 531.8 L645.8 531.8 L646.2 531.8 L646.6 531.8 L647.1 531.8 L647.5 531.8 L647.9 531.8 L648.3 531.8 L648.8 531.8 L649.2 531.8 L649.6 531.8 L650.0 531.8 L650.5 531.8 L650.9 531.8 L651.3 531.8 L651.7 531.8 L652.2 531.8 L652.6 531.8 L653.0 531.8 L653.4 531.8 L653.8 531.8 L654.3 531.8 L654.7 531.8 L655.1 531.8 L655.5 531.8 L656.0 531.8 L656.4 531.9 L656.8 531.9 L657.2 531.9 L657.7 531.9 L658.1 531.9 L658.5 531.9 L658.9 531.9 L659.4 531.9 L659.8 531.9 L660.2 531.9 L660.6 531.9 L661.1 531.9 L661.5 531.9 L661.9 531.9 L662.3 531.9 L662.8 531.9 L663.2 531.9 L663.6 531.9 L664.0 531.9 L664.5 531.9 L664.9 531.9 L665.3 531.9 L665.7 531.9 L666.1 531.9 L666.6 531.9 L667.0 531.9 L667.4 531.9 L667.8 531.9 L668.3 531.9 L668.7 531.9 L669.1 531.9 L669.5 531.9 L670.0 531.9 L670.4 531.9 L670.8 531.9 L671.2 531.9 L671.7 531.9 L672.1 531.9 L672.5 531.9 L672.9 531.9 L673.4 531.9 L673.8 531.9 L674.2 531.9 L674.6 531.9 L675.1 531.9 L675.5 531.9 L675.9 531.9 L676.3 531.9 L676.8 531.9 L677.2 531.9 L677.6 531.9 L678.0 531.9 L678.4 531.9 L678.9 531.9 L679.3 531.9 L679.7 531.9 L680.1 531.9 L680.6 531.9 L681.0 531.9 L681.4 531.9 L681.8 531.9 L682.3 531.9 L682.7 531.9 L683.1 531.9 L683.5 531.9 L684.0 531.9 L684.4 531.9 L684.8 531.9 L685.2 531.9 L685.7 532.0 L686.1 532.0 L686.5 532.0 L686.9 532.0 L687.4 532.0 L687.8 532.0 L688.2 532.0 L688.6 532.0 L689.1 532.0 L689.5 532.0 L689.9 532.0 L690.3 532.0 L690.7 532.0 L691.2 532.0 L691.6 532.0 L692.0 532.0 L692.4 532.0 L692.9 532.0 L693.3 532.0 L693.7 532.0 L694.1 532.0 L694.6 532.0 L695.0 532.0 L695.4 532.0 L695.8 532.0 L696.3 532.0 L696.7 532.0 L697.1 532.0 L697.5 532.0 L698.0 532.0 L698.4 532.0 L698.8 532.0 L699.2 532.0 L699.7 532.0 L700.1 532.0 L700.5 532.0 L700.9 532.0 L701.4 532.0 L701.8 532.0 L702.2 532.0 L702.6 532.0 L703.0 532.0 L703.5 532.0 L703.9 532.0 L704.3 532.0 L704.7 532.0 L705.2 532.0 L705.6 532.0 L706.0 532.0 L706.4 532.0 L706.9 532.0 L707.3 532.0 L707.7 532.0 L708.1 532.0 L708.6 532.0 L709.0 532.0 L709.4 532.0 L709.8 532.0 L710.3 532.0 L710.7 532.0 L711.1 532.0 L711.5 532.0 L712.0 532.0 L712.4 532.0 L712.8 532.0 L713.2 532.0 L713.7 532.0 L714.1 532.0 L714.5 532.0 L714.9 532.0 L715.3 532.0 L715.8 532.0 L716.2 532.0 L716.6 532.0 L717.0 532.0 L717.5 532.0 L717.9 532.0 L718.3 532.0 L718.7 532.0 L719.2 532.1 L719.6 532.1 L720.0 532.1 L720.4 532.1 L720.9 532.1 L721.3 532.1 L721.7 532.1 L722.1 532.1 L722.6 532.1 L723.0 532.1 L723.4 532.1 L723.8 532.1 L724.3 532.1 L724.7 532.1 L725.1 532.1 L725.5 532.1 L726.0 532.1 L726.4 532.1 L726.8 532.1 L727.2 532.1 L727.6 532.1 L728.1 532.1 L728.5 532.1 L728.9 532.1 L729.3 532.1 L729.8 532.1 L730.2 532.1 L730.6 532.1 L731.0 532.1 L731.5 532.1 L731.9 532.1 L732.3 532.1 L732.7 532.1 L733.2 532.1 L733.6 532.1 L734.0 532.1 L734.4 532.1 L734.9 532.1 L735.3 532.1 L735.7 532.1 L736.1 532.1 L736.6 532.1 L737.0 532.1 L737.4 532.1 L737.8 532.1 L738.3 532.1 L738.7 532.1 L739.1 532.1 L739.5 532.1 L739.9 532.1 L740.4 532.1 L740.8 532.1 L741.2 532.1 L741.6 532.1 L742.1 532.1 L742.5 532.1 L742.9 532.1 L743.3 532.1 L743.8 532.1 L744.2 532.1 L744.6 532.1 L745.0 532.1 L745.5 532.1 L745.9 532.1 L746.3 532.1 L746.7 532.1 L747.2 532.1 L747.6 532.1 L748.0 532.1 L748.4 532.1 L748.9 532.1 L749.3 532.1 L749.7 532.1 L750.1 532.1 L750.6 532.1 L751.0 532.1 L751.4 532.1 L751.8 532.1 L752.2 532.1 L752.7 532.1 L753.1 532.1 L753.5 532.1 L753.9 532.1 L754.4 532.1 L754.8 532.1 L755.2 532.1 L755.6 532.1 L756.1 532.1 L756.5 532.2 L756.7 532.2" fill="none" stroke="#ff0000" stroke-width="4.3" stroke-linejoin="round" stroke-linecap="round"/>
<path d="M429.0 531.4 L429.3 531.4 L429.7 531.5 L430.0 531.6 L430.2 531.7 L430.5 531.9 L430.8 532.0 L431.0 532.2 L431.2 532.4 L431.4 532.6 L431.6 532.8 L431.8 533.0 L431.9 533.3 L432.0 533.6 L432.2 533.3 L432.3 533.0 L432.3 532.7 L432.4 532.3 L432.5 532.0 L432.5 531.6 L432.6 531.2 L432.6 530.9 L432.7 530.5 L432.7 530.1 L432.7 529.7 L432.8 529.3 L432.8 528.9 L432.8 528.4 L432.8 528.0 L432.8 527.6 L432.9 527.2 L432.9 526.7 L432.9 526.3 L432.9 525.7 L432.9 525.3 L432.9 524.9 L433.0 524.4 L433.0 523.8 L433.0 523.2 L433.0 522.8 L433.0 522.4 L433.0 521.9 L433.0 521.4 L433.0 520.8 L433.0 520.2 L433.0 519.6 L433.0 518.9 L433.1 518.2 L433.1 517.4 L433.1 517.0 L433.1 516.5 L433.1 516.1 L433.1 515.6 L433.1 515.1 L433.1 514.6 L433.1 514.0 L433.1 513.4 L433.1 512.8 L433.1 512.2 L433.1 511.5 L433.1 510.8 L433.1 510.1 L433.1 509.3 L433.1 508.4 L433.1 507.5 L433.1 506.6 L433.1 505.6 L433.1 504.5 L433.1 503.3 L433.1 502.1 L433.2 500.8 L433.2 499.4 L433.2 497.9 L433.2 496.2 L433.2 494.4 L433.2 492.5 L433.2 490.4 L433.2 488.1 L433.2 485.6 L433.2 482.9 L433.2 479.9 L433.2 476.6 L433.2 473.0 L433.2 469.1 L433.2 464.8 L433.2 460.0 L433.2 454.9 L433.2 449.4 L433.2 443.6 L433.2 437.7 L433.2 431.9 L433.2 426.6 L433.2 422.2 L433.3 419.1 L433.3 417.8 L433.3 418.3 L433.3 420.6 L433.3 424.3 L433.3 429.0 L433.3 434.3 L433.3 439.7 L433.3 445.1 L433.3 450.3 L433.3 455.2 L433.3 459.7 L433.3 463.9 L433.3 467.7 L433.3 471.1 L433.3 474.3 L433.3 477.2 L433.3 479.9 L433.3 482.3 L433.3 484.5 L433.3 486.6 L433.3 488.5 L433.3 490.2 L433.3 491.8 L433.4 493.3 L433.4 494.7 L433.4 496.0 L433.4 497.2 L433.4 498.3 L433.4 499.4 L433.4 500.4 L433.4 501.3 L433.4 502.2 L433.4 503.0 L433.4 503.8 L433.4 504.6 L433.4 505.3 L433.4 505.9 L433.4 506.6 L433.4 507.2 L433.4 507.7 L433.4 508.3 L433.4 508.8 L433.4 509.3 L433.4 509.8 L433.4 510.2 L433.4 510.7 L433.5 511.1 L433.5 511.5 L433.5 512.2 L433.5 512.9 L433.5 513.6 L433.5 514.2 L433.5 514.7 L433.5 515.3 L433.5 515.8 L433.5 516.2 L433.5 516.7 L433.5 517.1 L433.6 517.6 L433.6 518.1 L433.6 518.6 L433.6 519.1 L433.6 519.5 L433.6 520.0 L433.6 520.5 L433.7 520.9 L433.7 521.3 L433.7 521.7 L433.7 522.1 L433.7 522.6 L433.8 523.0 L433.8 523.4 L433.8 523.7 L433.9 524.1 L433.9 524.5 L433.9 524.9 L434.0 525.2 L434.0 525.6 L434.1 525.9 L434.2 526.3 L434.2 526.6 L434.3 526.9 L434.4 527.2 L434.5 527.5 L434.7 527.8 L434.8 528.1 L435.0 528.3 L435.2 528.5 L435.4 528.7 L435.6 528.9 L435.9 529.0 L436.1 529.2 L436.4 529.3 L436.7 529.4 L437.0 529.5 L437.3 529.6 L437.5 529.6" fill="none" stroke="#ff0000" stroke-width="3.5" stroke-linejoin="round" stroke-linecap="round"/>
</g>

<!-- all text pieces (tick labels, axis label, legend text, annotations) -->
<g id="labels" opacity="0.999" stroke="#ffffff" stroke-width="0.12">
<text transform="translate(61.71 28.20) scale(1.0118 1.0000)" font-size="34">1</text>
<text transform="translate(81.55 28.20) scale(1.0118 1.0000)" font-size="34">.</text>
<text transform="translate(91.32 28.20) scale(1.1092 1.0000)" font-size="34">0</text>
<text transform="translate(61.44 131.88) scale(1.0958 1.0000)" font-size="34">0</text>
<text transform="translate(81.55 131.88) scale(1.0118 1.0000)" font-size="34">.</text>
<text transform="translate(91.89 131.88) scale(1.0420 1.0000)" font-size="34">8</text>
<text transform="translate(61.44 235.56) scale(1.0958 1.0000)" font-size="34">0</text>
<text transform="translate(81.55 235.56) scale(1.0118 1.0000)" font-size="34">.</text>
<text transform="translate(91.93 235.56) scale(1.0061 1.0000)" font-size="34">6</text>
<text transform="translate(61.44 339.24) scale(1.0958 1.0000)" font-size="34">0</text>
<text transform="translate(81.55 339.24) scale(1.0118 1.0000)" font-size="34">.</text>
<text transform="translate(91.85 339.24) scale(1.0416 1.0000)" font-size="34">4</text>
<text transform="translate(61.44 442.92) scale(1.0958 1.0000)" font-size="34">0</text>
<text transform="translate(81.55 442.92) scale(1.0118 1.0000)" font-size="34">.</text>
<text transform="translate(91.85 442.92) scale(1.0806 1.0000)" font-size="34">2</text>
<text transform="translate(91.34 546.60) scale(1.0891 1.0000)" font-size="34">0</text>
<text transform="translate(109.82 568.80) scale(1.1092 1.0000)" font-size="34">0</text>
<text transform="translate(314.63 568.80) scale(1.0039 1.0000)" font-size="34">1</text>
<text transform="translate(333.41 568.80) scale(1.1227 1.0000)" font-size="34">0</text>
<text transform="translate(527.48 568.80) scale(1.0527 1.0000)" font-size="34">2</text>
<text transform="translate(545.40 568.80) scale(1.1294 1.0000)" font-size="34">0</text>
<text transform="translate(736.94 568.80) scale(1.0388 1.0000)" font-size="34">3</text>
<text transform="translate(756.04 568.80) scale(1.0891 1.0000)" font-size="34">0</text>
<text transform="translate(383.62 612.60) scale(1.0501 1.0000)" font-size="33" font-style="italic">ω</text>
<text transform="translate(426.05 612.50) scale(1.2285 1.0000)" font-size="34">T</text>
<text transform="translate(452.11 612.50) scale(1.1123 1.0000)" font-size="34">H</text>
<text transform="translate(480.13 612.50) scale(1.0643 1.0000)" font-size="34">z</text>
<text transform="translate(562.36 68.40) scale(1.2915 1.0000)" font-size="34" font-style="italic">T</text>
<text transform="translate(628.79 68.40) scale(1.0109 1.0000)" font-size="34">5</text>
<text transform="translate(667.31 68.40) scale(1.0303 1.0000)" font-size="34">C</text>
<text transform="translate(562.46 108.90) scale(1.2915 1.0000)" font-size="34" font-style="italic">T</text>
<text transform="translate(629.10 108.90) scale(1.0388 1.0000)" font-size="34">2</text>
<text transform="translate(647.20 108.90) scale(1.0039 1.0000)" font-size="34">5</text>
<text transform="translate(687.36 108.90) scale(0.9808 1.0000)" font-size="34">C</text>
</g>
<g id="annotations" opacity="0.999" stroke="#ffffff" stroke-width="0.25">
<text transform="translate(199.70 112.50) scale(1.2790 1.0000)" font-size="29">the</text>
<text transform="translate(257.60 112.50) scale(1.2791 1.0000)" font-size="29">temperature</text>
<text transform="translate(199.15 144.80) scale(1.2044 1.0000)" font-size="29">increases,</text>
<text transform="translate(349.40 144.80) scale(1.2676 1.0000)" font-size="29">the</text>
<text transform="translate(199.17 177.00) scale(1.1665 1.0000)" font-size="29">frequency</text>
<text transform="translate(349.63 177.00) scale(1.0737 1.0000)" font-size="29">of</text>
<text transform="translate(388.66 177.00) scale(1.2015 1.0000)" font-size="29">mode</text>
<text transform="translate(198.90 209.10) scale(1.0575 1.0000)" font-size="29">1</text>
<text transform="translate(226.71 209.10) scale(1.2048 1.0000)" font-size="29">decreases</text>
<text transform="translate(450.10 358.60) scale(1.2790 1.0000)" font-size="29">the</text>
<text transform="translate(508.00 358.60) scale(1.2791 1.0000)" font-size="29">temperature</text>
<text transform="translate(449.55 387.40) scale(1.2044 1.0000)" font-size="29">increases,</text>
<text transform="translate(599.80 387.40) scale(1.2676 1.0000)" font-size="29">the</text>
<text transform="translate(449.57 416.10) scale(1.1665 1.0000)" font-size="29">frequency</text>
<text transform="translate(600.03 416.10) scale(1.0737 1.0000)" font-size="29">of</text>
<text transform="translate(639.06 416.10) scale(1.2015 1.0000)" font-size="29">mode</text>
<text transform="translate(449.80 444.90) scale(1.1034 1.0000)" font-size="29">2</text>
<text transform="translate(477.11 444.90) scale(1.2048 1.0000)" font-size="29">decreases</text>
</g>

<!-- y axis label |G(ω)| drawn bottom-to-top -->
<g id="ylabel">
<g opacity="0.999" stroke="#ffffff" stroke-width="0.2" style="filter: grayscale(1);">
<text transform="translate(29.40 321.31) rotate(-90) scale(1.1339 1.1250)" font-size="34" font-style="italic">G</text>
<text transform="translate(29.40 278.29) rotate(-90) scale(0.9320 1.0353)" font-size="34" font-style="italic">ω</text>
</g>
<g stroke="#000000" stroke-width="1.6" fill="none">
<line x1="3.0" y1="326.7" x2="35.9" y2="326.7"/>
<line x1="3.0" y1="237.6" x2="35.9" y2="237.6"/>
</g>
<path d="M3.2 281.0 Q19.5 297.6 35.8 281.0 Q19.5 294.6 3.2 281.0 Z" fill="#000000" stroke="#000000" stroke-width="1"/>
<path d="M3.2 255.0 Q19.5 238.4 35.8 255.0 Q19.5 241.4 3.2 255.0 Z" fill="#000000" stroke="#000000" stroke-width="1"/>
</g>

<!-- slash of the x label (runs off the bottom edge) -->
<line x1="423.0" y1="587.7" x2="408.3" y2="623" stroke="#000000" stroke-width="1.7"/>

<!-- legend -->
<line x1="483.5" y1="60.3" x2="553.8" y2="60.3" stroke="#0000ff" stroke-width="4"/>
<line x1="483.5" y1="99.6" x2="553.8" y2="99.6" stroke="#ff0000" stroke-width="4"/>
<g stroke="#000000" stroke-width="1.6" fill="none">
<line x1="595.2" y1="55.5" x2="619.1" y2="55.5"/>
<line x1="595.2" y1="63.8" x2="619.1" y2="63.8"/>
<line x1="595.1" y1="96.1" x2="618.9" y2="96.1"/>
<line x1="595.1" y1="104.4" x2="618.9" y2="104.4"/>
<circle cx="663.1" cy="50.7" r="3.0" stroke-width="1.5"/>
<circle cx="682.5" cy="91.6" r="3.0" stroke-width="1.5"/>
</g>

<!-- arrows -->
<g stroke="#000000" stroke-width="2.3" fill="#000000">
<line x1="241.1" y1="224.9" x2="156" y2="224.9"/>
<path d="M149.6 224.9 L158.2 220.2 L158.2 229.6 Z" stroke="none"/>
<line x1="470.8" y1="471.4" x2="394" y2="471.4"/>
<path d="M387.7 471.4 L396.0 466.9 L396.0 475.9 Z" stroke="none"/>
</g>
</svg>
</body>
</html>
